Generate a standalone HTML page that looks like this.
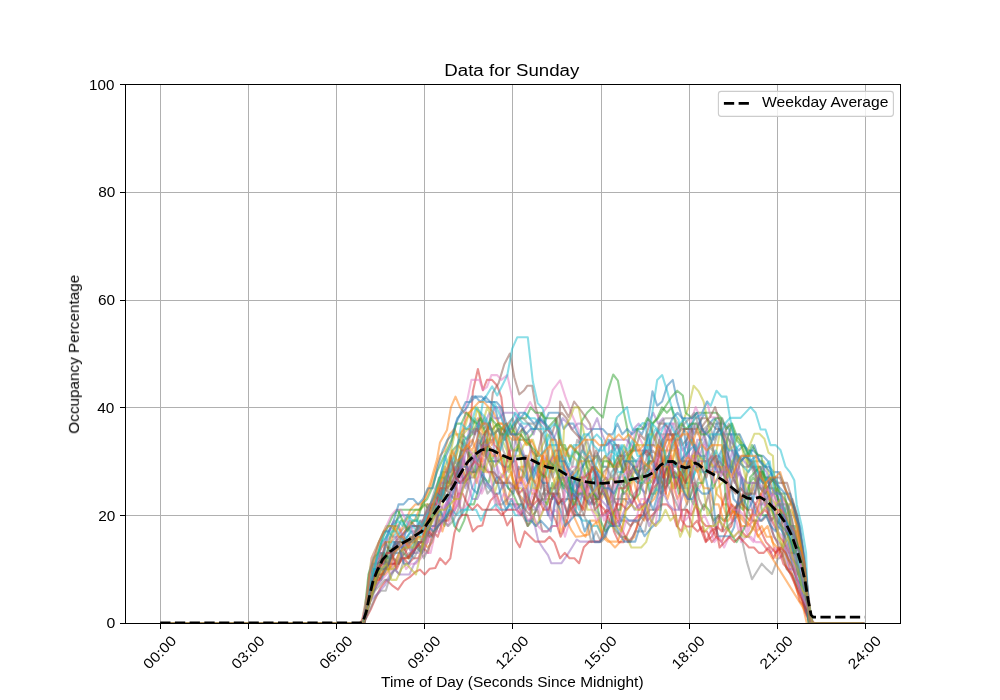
<!DOCTYPE html>
<html><head><meta charset="utf-8"><title>Data for Sunday</title>
<style>html,body{margin:0;padding:0;background:#fff}body{width:1000px;height:700px;overflow:hidden;font-family:"Liberation Sans",sans-serif}</style></head>
<body>
<svg width="1000" height="700" viewBox="0 0 1000 700" style="display:block;font-family:'Liberation Sans',sans-serif">
<rect width="1000" height="700" fill="#fff"/>
<path d="M160.5 84.5V623.5M248.5 84.5V623.5M336.5 84.5V623.5M424.5 84.5V623.5M512.5 84.5V623.5M601.5 84.5V623.5M689.5 84.5V623.5M777.5 84.5V623.5M865.5 84.5V623.5M125.5 623.5H900.5M125.5 515.5H900.5M125.5 407.5H900.5M125.5 300.5H900.5M125.5 192.5H900.5M125.5 84.5H900.5" stroke="#b0b0b0" stroke-width="1" fill="none" shape-rendering="crispEdges"/>
<clipPath id="c"><rect x="125.0" y="84.0" width="775.0" height="539.0"/></clipPath>
<g clip-path="url(#c)" fill="none" stroke-width="2.08" stroke-opacity="0.5" stroke-linejoin="round" stroke-linecap="butt">
<polyline stroke="#1f77b4" points="161.3,623.0 166.2,623.0 171.1,623.0 176.0,623.0 180.9,623.0 185.8,623.0 190.7,623.0 195.6,623.0 200.5,623.0 205.4,623.0 210.3,623.0 215.2,623.0 220.1,623.0 224.9,623.0 229.8,623.0 234.7,623.0 239.6,623.0 244.5,623.0 249.4,623.0 254.3,623.0 259.2,623.0 264.1,623.0 269.0,623.0 273.9,623.0 278.8,623.0 283.7,623.0 288.5,623.0 293.4,623.0 298.3,623.0 303.2,623.0 308.1,623.0 313.0,623.0 317.9,623.0 322.8,623.0 327.7,623.0 332.6,623.0 337.5,623.0 342.4,623.0 347.3,623.0 352.2,623.0 357.0,623.0 361.9,623.0 366.8,606.8 371.7,579.9 376.6,558.3 381.5,547.5 386.4,536.8 391.3,526.0 396.2,520.6 401.1,515.2 406.0,515.2 410.9,515.2 415.8,515.2 420.7,515.2 425.5,515.2 430.4,504.4 435.3,504.4 440.2,499.0 445.1,488.2 450.0,477.5 454.9,472.1 459.8,482.9 464.7,482.9 469.6,472.1 474.5,472.1 479.4,466.7 484.3,482.9 489.1,488.2 494.0,493.6 498.9,493.6 503.8,482.9 508.7,488.2 513.6,493.6 518.5,466.7 523.4,472.1 528.3,482.9 533.2,466.7 538.1,477.5 543.0,482.9 547.9,515.2 552.8,493.6 557.6,504.4 562.5,499.0 567.4,515.2 572.3,488.2 577.2,472.1 582.1,466.7 587.0,461.3 591.9,461.3 596.8,455.9 601.7,445.1 606.6,445.1 611.5,439.7 616.4,445.1 621.3,455.9 626.1,466.7 631.0,455.9 635.9,461.3 640.8,488.2 645.7,493.6 650.6,472.1 655.5,466.7 660.4,488.2 665.3,482.9 670.2,472.1 675.1,461.3 680.0,472.1 684.9,450.5 689.7,423.6 694.6,434.4 699.5,423.6 704.4,412.8 709.3,423.6 714.2,418.2 719.1,423.6 724.0,423.6 728.9,429.0 733.8,445.1 738.7,450.5 743.6,445.1 748.5,450.5 753.4,450.5 758.2,455.9 763.1,455.9 768.0,461.3 772.9,477.5 777.8,499.0 782.7,509.8 787.6,536.8 792.5,526.0 797.4,542.1 802.3,563.7 807.2,596.0 812.1,623.0 817.0,623.0 821.9,623.0 826.7,623.0 831.6,623.0 836.5,623.0 841.4,623.0 846.3,623.0 851.2,623.0 856.1,623.0 861.0,623.0"/>
<polyline stroke="#ff7f0e" points="164.8,623.0 169.7,623.0 174.6,623.0 179.5,623.0 184.4,623.0 189.3,623.0 194.2,623.0 199.1,623.0 204.0,623.0 208.9,623.0 213.8,623.0 218.7,623.0 223.6,623.0 228.4,623.0 233.3,623.0 238.2,623.0 243.1,623.0 248.0,623.0 252.9,623.0 257.8,623.0 262.7,623.0 267.6,623.0 272.5,623.0 277.4,623.0 282.3,623.0 287.2,623.0 292.1,623.0 296.9,623.0 301.8,623.0 306.7,623.0 311.6,623.0 316.5,623.0 321.4,623.0 326.3,623.0 331.2,623.0 336.1,623.0 341.0,623.0 345.9,623.0 350.8,623.0 355.7,623.0 360.5,623.0 365.4,617.6 370.3,601.4 375.2,585.3 380.1,569.1 385.0,547.5 389.9,547.5 394.8,552.9 399.7,542.1 404.6,531.4 409.5,526.0 414.4,520.6 419.3,509.8 424.4,499.0 430.3,482.9 437.1,459.1 440.0,442.4 447.0,430.0 450.9,407.4 455.5,396.6 460.0,407.4 464.4,412.8 468.2,412.8 473.1,423.6 478.0,418.2 482.9,434.4 487.8,429.0 492.7,429.0 497.5,423.6 502.4,423.6 507.3,434.4 512.2,439.7 517.1,439.7 522.0,455.9 526.9,466.7 531.8,493.6 536.7,493.6 541.6,472.1 546.5,455.9 551.4,472.1 556.3,488.2 561.1,472.1 566.0,482.9 570.9,509.8 575.8,520.6 580.7,531.4 585.6,536.8 590.5,520.6 595.4,520.6 600.3,531.4 605.2,536.8 610.1,542.1 615.0,547.5 619.9,542.1 624.8,536.8 629.6,542.1 634.5,536.8 639.4,515.2 644.3,520.6 649.2,504.4 654.1,499.0 659.0,488.2 663.9,450.5 668.8,450.5 673.7,450.5 678.6,445.1 683.5,429.0 688.4,434.4 693.3,439.7 698.1,450.5 703.0,466.7 707.9,472.1 712.8,472.1 717.7,472.1 722.6,504.4 727.5,504.4 732.4,520.6 737.3,504.4 742.2,504.4 747.1,509.8 752.0,509.8 756.9,531.4 761.7,526.0 766.6,536.8 771.5,536.8 776.4,558.3 781.3,547.5 786.2,531.4 791.1,542.1 796.0,569.1 800.9,579.9 805.8,606.8 810.7,623.0 815.6,623.0 820.5,623.0 825.4,623.0 830.2,623.0 835.1,623.0 840.0,623.0 844.9,623.0 849.8,623.0 854.7,623.0 859.6,623.0 864.5,623.0"/>
<polyline stroke="#2ca02c" points="160.8,623.0 165.7,623.0 170.5,623.0 175.4,623.0 180.3,623.0 185.2,623.0 190.1,623.0 195.0,623.0 199.9,623.0 204.8,623.0 209.7,623.0 214.6,623.0 219.5,623.0 224.4,623.0 229.3,623.0 234.1,623.0 239.0,623.0 243.9,623.0 248.8,623.0 253.7,623.0 258.6,623.0 263.5,623.0 268.4,623.0 273.3,623.0 278.2,623.0 283.1,623.0 288.0,623.0 292.9,623.0 297.8,623.0 302.6,623.0 307.5,623.0 312.4,623.0 317.3,623.0 322.2,623.0 327.1,623.0 332.0,623.0 336.9,623.0 341.8,623.0 346.7,623.0 351.6,623.0 356.5,623.0 361.4,623.0 366.3,612.2 371.1,590.7 376.0,574.5 380.9,579.9 385.8,563.7 390.7,558.3 395.6,542.1 400.5,542.1 405.4,542.1 410.3,542.1 415.2,536.8 420.1,520.6 425.0,526.0 429.9,515.2 434.7,515.2 439.6,509.8 444.5,526.0 449.4,509.8 454.3,526.0 459.2,531.4 464.1,520.6 469.0,504.4 473.9,504.4 478.8,488.2 483.7,477.5 488.6,482.9 493.5,461.3 498.4,461.3 503.2,455.9 508.1,488.2 513.0,493.6 517.9,504.4 522.8,504.4 527.7,526.0 532.6,520.6 537.5,504.4 542.4,499.0 547.3,504.4 552.2,482.9 557.1,493.6 562.0,482.9 566.9,488.2 571.7,488.2 576.6,493.6 581.5,421.4 587.1,412.8 592.9,407.1 597.9,412.8 602.9,417.6 607.9,391.2 613.2,374.5 617.9,380.7 622.9,407.4 627.0,427.3 630.5,450.5 635.3,472.1 640.2,477.5 645.1,472.1 650.0,493.6 654.9,493.6 659.8,477.5 664.7,488.2 669.6,482.9 674.5,461.3 679.4,472.1 684.3,493.6 689.2,499.0 694.1,482.9 699.0,515.2 703.8,504.4 708.7,509.8 713.6,520.6 718.5,515.2 723.4,520.6 728.3,515.2 733.2,509.8 738.1,504.4 743.0,509.8 747.9,488.2 752.8,477.5 757.7,482.9 762.6,515.2 767.5,515.2 772.3,493.6 777.2,493.6 782.1,520.6 787.0,504.4 791.9,531.4 796.8,542.1 801.7,558.3 806.6,590.7 811.5,623.0 816.4,623.0 821.3,623.0 826.2,623.0 831.1,623.0 835.9,623.0 840.8,623.0 845.7,623.0 850.6,623.0 855.5,623.0 860.4,623.0"/>
<polyline stroke="#d62728" points="163.8,623.0 168.7,623.0 173.6,623.0 178.5,623.0 183.4,623.0 188.2,623.0 193.1,623.0 198.0,623.0 202.9,623.0 207.8,623.0 212.7,623.0 217.6,623.0 222.5,623.0 227.4,623.0 232.3,623.0 237.2,623.0 242.1,623.0 247.0,623.0 251.9,623.0 256.7,623.0 261.6,623.0 266.5,623.0 271.4,623.0 276.3,623.0 281.2,623.0 286.1,623.0 291.0,623.0 295.9,623.0 300.8,623.0 305.7,623.0 310.6,623.0 315.5,623.0 320.4,623.0 325.2,623.0 330.1,623.0 335.0,623.0 339.9,623.0 344.8,623.0 349.7,623.0 354.6,623.0 359.5,623.0 364.4,623.0 369.3,601.4 374.2,590.7 379.1,579.9 384.0,569.1 388.8,569.1 393.7,563.7 398.6,563.7 403.5,558.3 408.4,563.7 413.3,558.3 418.2,558.3 423.1,547.5 428.0,552.9 432.9,531.4 437.8,536.8 442.7,520.6 447.6,504.4 452.5,482.9 457.3,477.5 462.2,455.9 467.1,472.1 472.9,391.2 477.9,369.1 482.9,390.2 487.0,379.9 492.0,379.9 497.2,385.8 501.3,397.2 506.3,439.7 511.2,461.3 516.1,461.3 521.0,482.9 525.8,455.9 530.7,472.1 535.6,455.9 540.5,488.2 545.4,466.7 550.3,461.3 555.2,450.5 560.1,450.5 565.0,472.1 569.9,488.2 574.8,515.2 579.7,482.9 584.6,499.0 589.4,504.4 594.3,499.0 599.2,499.0 604.1,482.9 609.0,499.0 613.9,531.4 618.8,542.1 623.7,542.1 628.6,531.4 633.5,520.6 638.4,515.2 643.3,515.2 648.2,499.0 653.1,488.2 657.9,482.9 662.8,461.3 667.7,455.9 672.6,493.6 677.5,526.0 682.4,509.8 687.3,509.8 692.2,526.0 697.1,520.6 702.0,531.4 706.9,531.4 711.8,542.1 716.7,536.8 721.6,542.1 726.4,531.4 731.3,526.0 736.2,509.8 741.1,499.0 746.0,493.6 750.9,499.0 755.8,504.4 760.7,493.6 765.6,504.4 770.5,520.6 775.4,515.2 780.3,509.8 785.2,547.5 790.0,569.1 794.9,579.9 799.8,601.4 804.7,606.8 809.6,623.0 814.5,623.0 819.4,623.0 824.3,623.0 829.2,623.0 834.1,623.0 839.0,623.0 843.9,623.0 848.8,623.0 853.7,623.0 858.5,623.0 863.4,623.0"/>
<polyline stroke="#9467bd" points="163.9,623.0 168.8,623.0 173.7,623.0 178.6,623.0 183.5,623.0 188.4,623.0 193.3,623.0 198.2,623.0 203.1,623.0 208.0,623.0 212.9,623.0 217.8,623.0 222.6,623.0 227.5,623.0 232.4,623.0 237.3,623.0 242.2,623.0 247.1,623.0 252.0,623.0 256.9,623.0 261.8,623.0 266.7,623.0 271.6,623.0 276.5,623.0 281.4,623.0 286.2,623.0 291.1,623.0 296.0,623.0 300.9,623.0 305.8,623.0 310.7,623.0 315.6,623.0 320.5,623.0 325.4,623.0 330.3,623.0 335.2,623.0 340.1,623.0 345.0,623.0 349.9,623.0 354.7,623.0 359.6,623.0 364.5,623.0 369.4,596.0 374.3,574.5 379.2,552.9 384.1,552.9 389.0,531.4 393.9,526.0 398.8,526.0 403.7,542.1 408.6,542.1 413.5,552.9 418.3,552.9 423.2,542.1 428.1,520.6 433.0,504.4 437.9,515.2 442.8,515.2 447.7,499.0 452.6,515.2 457.5,504.4 462.4,488.2 467.3,482.9 472.2,499.0 477.1,499.0 482.0,488.2 486.8,450.5 491.7,461.3 496.6,477.5 501.5,477.5 506.4,472.1 511.3,466.7 516.2,434.4 521.1,445.1 526.0,461.3 530.4,514.7 535.1,526.5 538.3,540.8 543.3,548.6 548.0,555.1 551.2,563.2 561.5,563.2 567.1,555.1 572.1,547.2 576.8,539.5 580.0,541.6 600.0,541.6 606.4,531.4 609.2,439.7 614.1,450.5 618.9,445.1 623.8,455.9 628.7,439.7 633.6,429.0 638.5,423.6 643.4,429.0 648.3,423.6 653.2,412.8 658.1,423.6 663.0,418.2 667.9,439.7 672.8,423.6 677.7,439.7 682.6,450.5 687.4,445.1 692.3,482.9 697.2,439.7 702.1,439.7 707.0,429.0 711.9,445.1 716.8,461.3 721.7,472.1 726.6,466.7 731.5,434.4 736.4,455.9 741.3,477.5 746.2,499.0 751.1,493.6 755.9,482.9 760.8,488.2 765.7,499.0 770.6,493.6 775.5,488.2 780.4,504.4 785.3,509.8 790.2,542.1 795.1,569.1 800.0,574.5 804.9,590.7 809.8,623.0 814.7,623.0 819.5,623.0 824.4,623.0 829.3,623.0 834.2,623.0 839.1,623.0 844.0,623.0 848.9,623.0 853.8,623.0 858.7,623.0 863.6,623.0"/>
<polyline stroke="#8c564b" points="163.3,623.0 168.2,623.0 173.1,623.0 178.0,623.0 182.9,623.0 187.8,623.0 192.7,623.0 197.5,623.0 202.4,623.0 207.3,623.0 212.2,623.0 217.1,623.0 222.0,623.0 226.9,623.0 231.8,623.0 236.7,623.0 241.6,623.0 246.5,623.0 251.4,623.0 256.3,623.0 261.1,623.0 266.0,623.0 270.9,623.0 275.8,623.0 280.7,623.0 285.6,623.0 290.5,623.0 295.4,623.0 300.3,623.0 305.2,623.0 310.1,623.0 315.0,623.0 319.9,623.0 324.8,623.0 329.6,623.0 334.5,623.0 339.4,623.0 344.3,623.0 349.2,623.0 354.1,623.0 359.0,623.0 363.9,623.0 368.8,601.4 373.7,579.9 378.6,563.7 383.5,552.9 388.4,569.1 393.2,547.5 398.1,542.1 403.0,547.5 407.9,542.1 412.8,542.1 417.7,542.1 422.6,552.9 427.5,542.1 432.4,515.2 437.3,499.0 442.2,472.1 447.1,472.1 452.0,482.9 456.9,488.2 461.7,515.2 466.6,493.6 471.5,472.1 476.4,472.1 481.3,445.1 486.2,450.5 492.8,392.8 498.7,382.9 504.3,364.3 509.9,353.5 514.3,377.2 519.3,394.5 524.2,390.2 527.2,385.8 532.2,385.8 535.7,407.4 540.4,423.6 544.9,499.0 549.8,488.2 554.7,488.2 559.6,477.5 564.5,499.0 569.4,499.0 574.3,509.8 579.2,515.2 584.1,499.0 589.0,472.1 593.8,466.7 598.7,488.2 603.6,472.1 608.5,466.7 613.4,445.1 618.3,445.1 623.2,472.1 628.1,466.7 633.0,477.5 637.9,482.9 642.8,477.5 647.7,477.5 652.6,482.9 657.5,445.1 662.3,450.5 667.2,439.7 672.1,439.7 677.0,429.0 681.9,445.1 686.8,439.7 691.7,429.0 696.6,429.0 701.5,418.2 706.4,418.2 711.3,423.6 716.2,429.0 721.1,429.0 726.0,450.5 730.8,461.3 735.7,477.5 740.6,461.3 745.5,455.9 750.4,461.3 755.3,472.1 760.2,488.2 765.1,493.6 770.0,482.9 774.9,477.5 779.8,493.6 784.7,499.0 789.6,509.8 794.4,531.4 799.3,552.9 804.2,579.9 809.1,623.0 814.0,623.0 818.9,623.0 823.8,623.0 828.7,623.0 833.6,623.0 838.5,623.0 843.4,623.0 848.3,623.0 853.2,623.0 858.1,623.0 862.9,623.0"/>
<polyline stroke="#e377c2" points="161.0,623.0 165.9,623.0 170.8,623.0 175.7,623.0 180.6,623.0 185.5,623.0 190.4,623.0 195.3,623.0 200.2,623.0 205.1,623.0 210.0,623.0 214.9,623.0 219.7,623.0 224.6,623.0 229.5,623.0 234.4,623.0 239.3,623.0 244.2,623.0 249.1,623.0 254.0,623.0 258.9,623.0 263.8,623.0 268.7,623.0 273.6,623.0 278.5,623.0 283.4,623.0 288.2,623.0 293.1,623.0 298.0,623.0 302.9,623.0 307.8,623.0 312.7,623.0 317.6,623.0 322.5,623.0 327.4,623.0 332.3,623.0 337.2,623.0 342.1,623.0 347.0,623.0 351.9,623.0 356.7,623.0 361.6,623.0 366.5,601.4 371.4,569.1 376.3,558.3 381.2,558.3 386.1,542.1 391.0,536.8 395.9,536.8 400.8,547.5 405.7,547.5 410.6,536.8 415.5,542.1 420.3,547.5 425.2,547.5 430.1,531.4 435.0,526.0 439.9,520.6 444.8,515.2 449.7,515.2 454.6,509.8 459.5,499.0 465.8,407.4 471.4,379.9 479.3,379.9 482.9,390.2 487.0,386.9 491.4,375.1 497.2,375.1 501.3,379.9 507.2,375.1 509.9,386.9 514.3,407.4 521.3,418.2 530.1,402.0 538.9,418.2 548.6,404.7 552.7,390.2 560.1,380.4 565.3,396.6 571.2,412.8 578.6,430.0 581.8,482.9 586.7,493.6 591.6,482.9 596.5,482.9 601.4,482.9 606.3,477.5 611.2,493.6 616.1,520.6 620.9,504.4 625.8,477.5 630.7,455.9 635.6,429.0 640.5,439.7 645.4,450.5 650.3,472.1 655.2,482.9 660.1,450.5 665.0,429.0 669.9,439.7 674.8,445.1 679.7,450.5 684.6,488.2 689.4,488.2 694.3,482.9 699.2,488.2 704.1,477.5 709.0,466.7 713.9,455.9 718.8,455.9 723.7,461.3 728.6,466.7 733.5,461.3 738.4,472.1 743.3,493.6 748.2,499.0 753.1,488.2 757.9,499.0 762.8,493.6 767.7,504.4 772.6,504.4 777.5,509.8 782.4,509.8 787.3,526.0 792.2,531.4 797.1,531.4 802.0,558.3 806.9,590.7 811.8,623.0 816.7,623.0 821.5,623.0 826.4,623.0 831.3,623.0 836.2,623.0 841.1,623.0 846.0,623.0 850.9,623.0 855.8,623.0 860.7,623.0"/>
<polyline stroke="#7f7f7f" points="161.3,623.0 166.2,623.0 171.1,623.0 176.0,623.0 180.9,623.0 185.7,623.0 190.6,623.0 195.5,623.0 200.4,623.0 205.3,623.0 210.2,623.0 215.1,623.0 220.0,623.0 224.9,623.0 229.8,623.0 234.7,623.0 239.6,623.0 244.5,623.0 249.3,623.0 254.2,623.0 259.1,623.0 264.0,623.0 268.9,623.0 273.8,623.0 278.7,623.0 283.6,623.0 288.5,623.0 293.4,623.0 298.3,623.0 303.2,623.0 308.1,623.0 313.0,623.0 317.8,623.0 322.7,623.0 327.6,623.0 332.5,623.0 337.4,623.0 342.3,623.0 347.2,623.0 352.1,623.0 357.0,623.0 361.9,623.0 366.8,612.2 371.7,590.7 376.6,579.9 381.5,563.7 386.3,552.9 391.2,542.1 396.1,536.8 401.0,531.4 405.9,526.0 410.8,531.4 415.7,531.4 420.6,526.0 425.5,520.6 430.4,504.4 435.3,488.2 440.2,477.5 445.1,466.7 449.9,482.9 454.8,488.2 459.7,455.9 464.6,477.5 469.5,450.5 474.4,461.3 479.3,450.5 484.2,455.9 489.1,423.6 494.0,434.4 498.9,429.0 503.8,429.0 508.7,455.9 513.6,434.4 518.4,450.5 523.3,455.9 528.2,455.9 533.1,477.5 538.0,499.0 542.9,482.9 547.8,488.2 552.7,466.7 557.6,455.9 562.5,472.1 567.4,450.5 572.3,466.7 577.2,439.7 582.0,445.1 586.9,466.7 591.8,472.1 596.7,466.7 601.6,482.9 606.5,493.6 611.4,472.1 616.3,466.7 621.2,455.9 626.1,450.5 631.0,461.3 635.9,461.3 640.8,461.3 645.7,466.7 650.5,461.3 655.4,472.1 660.3,434.4 665.2,434.4 670.1,434.4 675.0,439.7 679.9,439.7 684.8,429.0 689.7,429.0 694.6,418.2 699.5,418.2 704.4,434.4 709.3,423.6 714.2,439.7 719.0,429.0 723.9,434.4 728.8,423.6 733.7,434.4 741.2,536.2 746.8,561.6 752.0,579.3 757.0,571.3 761.7,563.7 766.7,569.1 772.0,574.0 777.6,559.1 782.6,555.6 787.5,509.8 792.4,499.0 797.3,515.2 802.2,547.5 807.1,585.3 812.0,623.0 816.9,623.0 821.8,623.0 826.7,623.0 831.6,623.0 836.5,623.0 841.4,623.0 846.3,623.0 851.1,623.0 856.0,623.0 860.9,623.0"/>
<polyline stroke="#bcbd22" points="161.7,623.0 166.6,623.0 171.5,623.0 176.4,623.0 181.3,623.0 186.2,623.0 191.1,623.0 196.0,623.0 200.8,623.0 205.7,623.0 210.6,623.0 215.5,623.0 220.4,623.0 225.3,623.0 230.2,623.0 235.1,623.0 240.0,623.0 244.9,623.0 249.8,623.0 254.7,623.0 259.6,623.0 264.4,623.0 269.3,623.0 274.2,623.0 279.1,623.0 284.0,623.0 288.9,623.0 293.8,623.0 298.7,623.0 303.6,623.0 308.5,623.0 313.4,623.0 318.3,623.0 323.2,623.0 328.1,623.0 332.9,623.0 337.8,623.0 342.7,623.0 347.6,623.0 352.5,623.0 357.4,623.0 362.3,623.0 367.2,606.8 372.1,585.3 377.0,569.1 381.9,558.3 386.8,558.3 391.7,569.1 396.6,563.7 401.4,552.9 406.3,547.5 411.2,536.8 416.1,542.1 421.0,552.9 425.9,536.8 430.8,531.4 435.7,531.4 440.6,515.2 445.5,488.2 450.4,482.9 455.3,482.9 460.2,461.3 465.0,466.7 469.9,455.9 474.8,450.5 479.7,455.9 484.6,450.5 489.5,450.5 494.4,493.6 499.3,477.5 504.2,472.1 509.1,466.7 514.0,455.9 518.9,455.9 523.8,445.1 528.7,439.7 533.5,455.9 538.4,472.1 543.3,461.3 548.2,466.7 553.1,450.5 558.0,482.9 562.9,477.5 567.8,477.5 572.7,482.9 577.6,477.5 582.5,477.5 587.4,509.8 592.3,509.8 597.2,515.2 602.0,531.4 606.9,520.6 611.8,526.0 616.7,531.4 621.6,536.8 626.5,536.8 631.4,547.5 636.3,547.5 641.2,547.5 646.1,542.1 651.0,526.0 655.9,509.8 660.8,509.8 665.6,472.1 670.5,450.5 675.4,439.7 680.3,429.0 685.7,414.4 688.6,407.4 693.6,385.8 698.6,391.2 703.6,401.5 708.6,425.7 714.6,461.3 719.5,434.4 724.4,434.4 729.3,450.5 734.1,445.1 739.0,434.4 743.9,455.9 748.8,466.7 753.7,461.3 758.6,461.3 763.5,461.3 768.4,472.1 773.3,493.6 778.2,488.2 783.1,499.0 788.0,504.4 792.9,504.4 797.8,526.0 802.6,552.9 807.5,596.0 812.4,623.0 817.3,623.0 822.2,623.0 827.1,623.0 832.0,623.0 836.9,623.0 841.8,623.0 846.7,623.0 851.6,623.0 856.5,623.0 861.4,623.0"/>
<polyline stroke="#17becf" points="162.0,623.0 166.9,623.0 171.8,623.0 176.7,623.0 181.5,623.0 186.4,623.0 191.3,623.0 196.2,623.0 201.1,623.0 206.0,623.0 210.9,623.0 215.8,623.0 220.7,623.0 225.6,623.0 230.5,623.0 235.4,623.0 240.3,623.0 245.2,623.0 250.0,623.0 254.9,623.0 259.8,623.0 264.7,623.0 269.6,623.0 274.5,623.0 279.4,623.0 284.3,623.0 289.2,623.0 294.1,623.0 299.0,623.0 303.9,623.0 308.8,623.0 313.7,623.0 318.5,623.0 323.4,623.0 328.3,623.0 333.2,623.0 338.1,623.0 343.0,623.0 347.9,623.0 352.8,623.0 357.7,623.0 362.6,623.0 367.5,596.0 372.4,569.1 377.3,558.3 382.1,552.9 387.0,558.3 391.9,542.1 396.8,542.1 401.7,547.5 406.6,547.5 411.5,547.5 416.4,531.4 421.3,526.0 426.2,531.4 431.1,536.8 436.0,531.4 440.9,520.6 445.8,515.2 450.6,509.8 455.5,526.0 460.4,515.2 465.3,509.8 470.2,504.4 475.1,488.2 478.4,430.0 482.9,401.5 492.2,386.4 497.2,395.5 502.2,385.8 507.2,375.6 512.2,348.6 517.2,337.3 522.2,337.3 527.8,337.3 532.8,381.5 537.7,403.1 542.7,408.5 545.7,421.4 548.5,477.5 553.4,461.3 558.3,472.1 563.2,488.2 568.1,493.6 573.0,504.4 577.9,515.2 582.7,520.6 587.6,520.6 592.5,526.0 597.4,526.0 602.3,536.8 607.2,520.6 612.1,526.0 615.0,424.1 617.0,417.1 622.9,411.4 627.0,407.1 629.9,421.4 632.9,430.0 637.0,429.0 642.8,423.0 645.8,424.1 651.2,499.0 656.1,488.2 661.0,493.6 665.9,466.7 670.8,472.1 675.7,477.5 680.6,466.7 685.5,482.9 690.4,482.9 695.3,472.1 700.2,455.9 705.1,461.3 710.0,466.7 714.9,466.7 719.7,461.3 724.6,445.1 729.5,450.5 734.4,450.5 739.3,445.1 744.2,445.1 749.1,455.9 754.0,466.7 758.9,472.1 763.8,472.1 768.7,482.9 773.6,515.2 778.5,515.2 783.3,536.8 788.2,558.3 793.1,569.1 798.0,585.3 802.9,596.0 807.8,612.2 812.7,623.0 817.6,623.0 822.5,623.0 827.4,623.0 832.3,623.0 837.2,623.0 842.1,623.0 847.0,623.0 851.8,623.0 856.7,623.0 861.6,623.0"/>
<polyline stroke="#1f77b4" points="162.4,623.0 167.3,623.0 172.2,623.0 177.0,623.0 181.9,623.0 186.8,623.0 191.7,623.0 196.6,623.0 201.5,623.0 206.4,623.0 211.3,623.0 216.2,623.0 221.1,623.0 226.0,623.0 230.9,623.0 235.8,623.0 240.7,623.0 245.5,623.0 250.4,623.0 255.3,623.0 260.2,623.0 265.1,623.0 270.0,623.0 274.9,623.0 279.8,623.0 284.7,623.0 289.6,623.0 294.5,623.0 299.4,623.0 304.3,623.0 309.1,623.0 314.0,623.0 318.9,623.0 323.8,623.0 328.7,623.0 333.6,623.0 338.5,623.0 343.4,623.0 348.3,623.0 353.2,623.0 358.1,623.0 363.0,623.0 367.9,601.4 372.8,563.7 377.6,563.7 382.5,558.3 387.4,558.3 392.3,552.9 397.2,547.5 402.1,547.5 407.0,536.8 411.9,531.4 416.8,547.5 421.7,552.9 426.6,526.0 431.5,515.2 436.4,493.6 441.3,472.1 446.1,455.9 451.0,445.1 455.9,423.6 460.8,412.8 465.7,402.0 470.6,402.0 475.5,396.6 480.4,402.0 485.3,396.6 490.2,402.0 495.1,407.4 500.0,429.0 504.9,439.7 509.7,429.0 514.6,423.6 519.5,412.8 524.4,412.8 529.3,418.2 534.2,423.6 539.1,418.2 544.0,423.6 548.9,412.8 553.8,412.8 558.7,412.8 563.6,429.0 568.5,423.6 573.4,423.6 578.2,434.4 583.1,439.7 588.0,434.4 592.9,429.0 597.8,429.0 602.7,429.0 607.6,434.4 612.5,434.4 617.4,423.6 622.3,434.4 627.2,429.0 632.1,434.4 637.0,429.0 641.8,434.4 648.4,418.7 652.5,391.2 657.2,405.8 662.2,401.5 667.2,385.8 672.8,379.9 677.2,401.5 682.8,420.0 685.9,445.1 690.8,439.7 695.7,450.5 700.6,455.9 705.5,455.9 710.3,445.1 715.2,434.4 720.1,429.0 725.0,434.4 729.9,434.4 734.8,434.4 739.7,434.4 744.6,445.1 749.5,455.9 754.4,445.1 759.3,461.3 764.2,466.7 769.1,466.7 774.0,472.1 778.8,472.1 783.7,482.9 788.6,499.0 793.5,504.4 798.4,520.6 803.3,552.9 808.2,606.8 813.1,623.0 818.0,623.0 822.9,623.0 827.8,623.0 832.7,623.0 837.6,623.0 842.4,623.0 847.3,623.0 852.2,623.0 857.1,623.0 862.0,623.0"/>
<polyline stroke="#ff7f0e" points="163.5,623.0 168.4,623.0 173.3,623.0 178.2,623.0 183.1,623.0 188.0,623.0 192.9,623.0 197.8,623.0 202.7,623.0 207.5,623.0 212.4,623.0 217.3,623.0 222.2,623.0 227.1,623.0 232.0,623.0 236.9,623.0 241.8,623.0 246.7,623.0 251.6,623.0 256.5,623.0 261.4,623.0 266.3,623.0 271.2,623.0 276.0,623.0 280.9,623.0 285.8,623.0 290.7,623.0 295.6,623.0 300.5,623.0 305.4,623.0 310.3,623.0 315.2,623.0 320.1,623.0 325.0,623.0 329.9,623.0 334.8,623.0 339.7,623.0 344.5,623.0 349.4,623.0 354.3,623.0 359.2,623.0 364.1,623.0 369.0,601.4 373.9,574.5 378.8,569.1 383.7,563.7 388.6,552.9 393.5,552.9 398.4,547.5 403.3,558.3 408.1,558.3 413.0,552.9 417.9,542.1 422.8,542.1 427.7,547.5 432.6,542.1 437.5,515.2 442.4,531.4 447.3,515.2 452.2,509.8 457.1,482.9 462.0,466.7 466.9,482.9 471.8,466.7 476.6,482.9 481.5,461.3 486.4,472.1 491.3,472.1 496.2,482.9 501.1,477.5 506.0,504.4 510.9,488.2 515.8,488.2 520.7,466.7 525.6,466.7 530.5,450.5 535.4,455.9 540.3,455.9 545.1,450.5 550.0,472.1 554.9,461.3 559.8,466.7 564.7,482.9 569.6,493.6 574.5,504.4 579.4,504.4 584.3,509.8 589.2,482.9 594.1,493.6 599.0,504.4 603.9,493.6 608.7,499.0 613.6,515.2 618.5,520.6 623.4,499.0 628.3,499.0 633.2,477.5 638.1,499.0 643.0,509.8 647.9,477.5 652.8,477.5 657.7,477.5 662.6,482.9 667.5,499.0 672.4,482.9 677.2,499.0 682.1,488.2 687.0,504.4 691.9,455.9 696.8,450.5 701.7,445.1 706.6,472.1 711.5,461.3 716.4,493.6 721.3,499.0 726.2,515.2 731.1,504.4 736.0,515.2 740.9,515.2 745.7,520.6 750.6,526.0 755.5,531.4 809.3,617.6 814.2,623.0 819.1,623.0 824.0,623.0 828.9,623.0 833.8,623.0 838.7,623.0 843.6,623.0 848.5,623.0 853.4,623.0 858.3,623.0 863.2,623.0"/>
<polyline stroke="#2ca02c" points="163.7,623.0 168.6,623.0 173.5,623.0 178.4,623.0 183.3,623.0 188.2,623.0 193.1,623.0 198.0,623.0 202.9,623.0 207.8,623.0 212.7,623.0 217.6,623.0 222.5,623.0 227.3,623.0 232.2,623.0 237.1,623.0 242.0,623.0 246.9,623.0 251.8,623.0 256.7,623.0 261.6,623.0 266.5,623.0 271.4,623.0 276.3,623.0 281.2,623.0 286.1,623.0 290.9,623.0 295.8,623.0 300.7,623.0 305.6,623.0 310.5,623.0 315.4,623.0 320.3,623.0 325.2,623.0 330.1,623.0 335.0,623.0 339.9,623.0 344.8,623.0 349.7,623.0 354.6,623.0 359.4,623.0 364.3,623.0 369.2,596.0 374.1,574.5 379.0,569.1 383.9,552.9 388.8,558.3 393.7,558.3 398.6,563.7 403.5,552.9 408.4,558.3 413.3,547.5 418.2,531.4 423.1,520.6 427.9,531.4 432.8,515.2 437.7,504.4 442.6,488.2 447.5,472.1 452.4,450.5 457.3,445.1 462.2,434.4 467.1,439.7 472.0,434.4 476.9,423.6 481.8,445.1 486.7,439.7 491.5,461.3 496.4,450.5 501.3,429.0 506.2,423.6 511.1,434.4 516.0,423.6 520.9,418.2 525.8,418.2 530.7,407.4 535.6,412.8 540.5,412.8 545.4,418.2 550.3,418.2 555.2,418.2 560.0,445.1 564.9,445.1 569.8,461.3 574.7,450.5 579.6,455.9 584.5,472.1 589.4,482.9 594.3,477.5 599.2,493.6 604.1,493.6 609.0,504.4 613.9,499.0 618.8,482.9 623.7,493.6 628.5,488.2 633.4,466.7 638.3,472.1 643.2,466.7 648.1,472.1 653.0,423.6 657.9,418.2 662.2,411.4 671.3,397.2 677.2,390.7 682.8,395.5 685.7,412.8 692.1,418.2 697.0,412.8 701.9,412.8 706.8,412.8 711.7,412.8 716.6,412.8 721.5,418.2 726.4,429.0 731.3,423.6 736.2,439.7 741.1,445.1 746.0,455.9 750.9,466.7 755.8,466.7 760.6,466.7 765.5,488.2 770.4,488.2 775.3,488.2 780.2,509.8 785.1,520.6 790.0,526.0 794.9,526.0 799.8,558.3 804.7,569.1 809.6,623.0 814.5,623.0 819.4,623.0 824.3,623.0 829.1,623.0 834.0,623.0 838.9,623.0 843.8,623.0 848.7,623.0 853.6,623.0 858.5,623.0 863.4,623.0"/>
<polyline stroke="#d62728" points="163.0,623.0 167.8,623.0 172.7,623.0 177.6,623.0 182.5,623.0 187.4,623.0 192.3,623.0 197.2,623.0 202.1,623.0 207.0,623.0 211.9,623.0 216.8,623.0 221.7,623.0 226.6,623.0 231.5,623.0 236.3,623.0 241.2,623.0 246.1,623.0 251.0,623.0 255.9,623.0 260.8,623.0 265.7,623.0 270.6,623.0 275.5,623.0 280.4,623.0 285.3,623.0 290.2,623.0 295.1,623.0 299.9,623.0 304.8,623.0 309.7,623.0 314.6,623.0 319.5,623.0 324.4,623.0 329.3,623.0 334.2,623.0 339.1,623.0 344.0,623.0 348.9,623.0 353.8,623.0 358.7,623.0 363.6,623.0 370.7,609.5 375.4,598.7 380.4,588.0 386.3,579.9 392.1,585.3 398.0,589.6 403.9,581.0 409.8,577.2 415.6,571.8 420.0,569.6 424.7,574.5 429.7,568.8 435.3,568.0 440.0,558.3 445.6,564.2 450.3,558.3 454.4,533.0 458.5,520.1 462.3,514.7 467.3,514.7 472.9,531.4 477.6,526.5 482.3,525.4 486.4,510.3 490.5,500.6 496.6,494.2 502.5,512.0 507.2,525.4 511.9,518.4 516.0,540.8 519.8,547.2 524.8,531.4 535.1,541.6 544.8,541.6 549.5,536.8 554.5,542.4 560.1,558.3 564.8,552.9 569.5,558.3 574.4,558.3 579.1,563.2 583.8,547.2 589.4,541.6 600.0,541.6 604.7,526.5 609.7,508.7 613.1,526.0 618.0,520.6 622.9,531.4 627.8,542.1 632.7,536.8 637.5,526.0 642.4,509.8 647.3,520.6 652.2,515.2 657.1,509.8 662.0,504.4 666.9,504.4 671.8,509.8 676.7,526.0 681.6,531.4 686.5,509.8 691.4,515.2 696.3,504.4 701.1,520.6 706.0,526.0 710.9,526.0 715.8,536.8 720.7,509.8 725.6,493.6 730.5,515.2 735.4,509.8 740.3,493.6 745.2,515.2 750.1,520.6 755.0,504.4 759.9,515.2 764.8,509.8 769.6,515.2 774.5,526.0 779.4,536.8 784.3,542.1 789.2,552.9 794.1,552.9 799.0,558.3 803.9,574.5 808.8,623.0 813.7,623.0 818.6,623.0 823.5,623.0 828.4,623.0 833.3,623.0 838.1,623.0 843.0,623.0 847.9,623.0 852.8,623.0 857.7,623.0 862.6,623.0"/>
<polyline stroke="#9467bd" points="162.0,623.0 166.9,623.0 171.8,623.0 176.7,623.0 181.6,623.0 186.5,623.0 191.4,623.0 196.3,623.0 201.2,623.0 206.1,623.0 211.0,623.0 215.9,623.0 220.8,623.0 225.6,623.0 230.5,623.0 235.4,623.0 240.3,623.0 245.2,623.0 250.1,623.0 255.0,623.0 259.9,623.0 264.8,623.0 269.7,623.0 274.6,623.0 279.5,623.0 284.4,623.0 289.3,623.0 294.1,623.0 299.0,623.0 303.9,623.0 308.8,623.0 313.7,623.0 318.6,623.0 323.5,623.0 328.4,623.0 333.3,623.0 338.2,623.0 343.1,623.0 348.0,623.0 352.9,623.0 357.7,623.0 362.6,623.0 367.5,606.8 372.4,590.7 377.3,574.5 382.2,569.1 387.1,552.9 392.0,552.9 396.9,536.8 401.8,536.8 406.7,531.4 411.6,526.0 416.5,526.0 421.4,520.6 426.2,520.6 431.1,509.8 436.0,499.0 440.9,493.6 445.8,472.1 450.7,461.3 455.6,472.1 460.5,466.7 465.4,488.2 470.3,472.1 475.2,455.9 480.1,412.8 485.0,423.6 489.9,423.6 494.7,407.4 499.6,407.4 504.5,429.0 509.4,434.4 514.3,434.4 519.2,439.7 524.1,439.7 529.0,439.7 533.9,477.5 538.8,466.7 543.7,455.9 548.6,466.7 553.5,455.9 558.3,466.7 563.2,466.7 568.1,477.5 573.0,472.1 577.9,488.2 582.8,477.5 587.7,472.1 592.6,466.7 597.5,488.2 602.4,482.9 607.3,482.9 612.2,499.0 617.1,504.4 622.0,493.6 626.8,493.6 631.7,504.4 636.6,493.6 641.5,482.9 646.4,504.4 651.3,488.2 656.2,477.5 661.1,493.6 666.0,488.2 670.9,466.7 675.8,472.1 680.7,488.2 685.6,466.7 690.5,445.1 695.3,423.6 700.2,423.6 705.1,439.7 710.0,455.9 714.9,466.7 719.8,477.5 724.7,472.1 729.6,466.7 734.5,482.9 739.4,472.1 744.3,482.9 749.2,499.0 754.1,515.2 758.9,504.4 763.8,504.4 768.7,509.8 773.6,536.8 778.5,542.1 783.4,547.5 788.3,569.1 793.2,569.1 798.1,574.5 803.0,579.9 807.9,606.8 812.8,623.0 817.7,623.0 822.6,623.0 827.4,623.0 832.3,623.0 837.2,623.0 842.1,623.0 847.0,623.0 851.9,623.0 856.8,623.0 861.7,623.0"/>
<polyline stroke="#8c564b" points="160.8,623.0 165.7,623.0 170.6,623.0 175.4,623.0 180.3,623.0 185.2,623.0 190.1,623.0 195.0,623.0 199.9,623.0 204.8,623.0 209.7,623.0 214.6,623.0 219.5,623.0 224.4,623.0 229.3,623.0 234.2,623.0 239.1,623.0 243.9,623.0 248.8,623.0 253.7,623.0 258.6,623.0 263.5,623.0 268.4,623.0 273.3,623.0 278.2,623.0 283.1,623.0 288.0,623.0 292.9,623.0 297.8,623.0 302.7,623.0 307.6,623.0 312.4,623.0 317.3,623.0 322.2,623.0 327.1,623.0 332.0,623.0 336.9,623.0 341.8,623.0 346.7,623.0 351.6,623.0 356.5,623.0 361.4,623.0 366.3,612.2 371.2,585.3 376.0,569.1 380.9,552.9 385.8,563.7 390.7,563.7 395.6,563.7 400.5,558.3 405.4,552.9 410.3,542.1 415.2,536.8 420.1,547.5 425.0,542.1 429.9,526.0 434.8,515.2 439.7,504.4 444.5,488.2 449.4,493.6 454.3,499.0 459.2,466.7 464.1,482.9 469.0,477.5 473.9,477.5 478.8,466.7 483.7,466.7 488.6,472.1 493.5,472.1 498.4,477.5 503.3,482.9 508.2,504.4 513.0,504.4 517.9,504.4 522.8,515.2 527.7,526.0 532.6,515.2 537.5,509.8 542.4,531.4 547.3,531.4 552.2,526.0 557.1,526.0 560.1,401.5 568.6,417.1 574.1,401.5 581.5,411.4 585.6,417.1 590.0,424.1 592.9,438.7 596.2,499.0 601.1,482.9 606.0,477.5 610.9,488.2 615.8,504.4 620.7,520.6 625.6,520.6 630.5,526.0 635.4,520.6 640.3,526.0 645.1,515.2 650.0,509.8 654.9,509.8 659.8,504.4 664.7,455.9 669.6,477.5 674.5,472.1 679.4,477.5 684.3,488.2 689.2,461.3 694.1,477.5 699.0,499.0 703.9,509.8 708.8,493.6 713.6,526.0 718.5,515.2 723.4,531.4 728.3,526.0 733.2,520.6 738.1,515.2 743.0,493.6 747.9,499.0 752.8,482.9 757.7,482.9 762.6,472.1 767.5,482.9 772.4,477.5 777.2,482.9 782.1,482.9 787.0,482.9 791.9,499.0 796.8,515.2 801.7,542.1 806.6,579.9 811.5,623.0 816.4,623.0 821.3,623.0 826.2,623.0 831.1,623.0 836.0,623.0 840.9,623.0 845.7,623.0 850.6,623.0 855.5,623.0 860.4,623.0"/>
<polyline stroke="#e377c2" points="163.8,623.0 168.7,623.0 173.6,623.0 178.5,623.0 183.4,623.0 188.3,623.0 193.2,623.0 198.1,623.0 203.0,623.0 207.8,623.0 212.7,623.0 217.6,623.0 222.5,623.0 227.4,623.0 232.3,623.0 237.2,623.0 242.1,623.0 247.0,623.0 251.9,623.0 256.8,623.0 261.7,623.0 266.6,623.0 271.4,623.0 276.3,623.0 281.2,623.0 286.1,623.0 291.0,623.0 295.9,623.0 300.8,623.0 305.7,623.0 310.6,623.0 315.5,623.0 320.4,623.0 325.3,623.0 330.2,623.0 335.1,623.0 339.9,623.0 344.8,623.0 349.7,623.0 354.6,623.0 359.5,623.0 364.4,623.0 369.3,590.7 374.2,569.1 379.1,552.9 384.0,542.1 388.9,531.4 393.8,520.6 398.7,526.0 403.6,536.8 408.4,547.5 413.3,552.9 418.2,542.1 423.1,542.1 428.0,542.1 432.9,526.0 437.8,526.0 442.7,515.2 447.6,526.0 452.5,515.2 457.4,504.4 462.3,509.8 467.2,504.4 472.0,488.2 476.9,477.5 481.8,493.6 486.7,482.9 491.6,488.2 496.5,509.8 501.4,509.8 506.3,509.8 511.2,509.8 516.1,504.4 521.0,515.2 525.9,509.8 530.8,499.0 535.7,488.2 540.5,515.2 545.4,504.4 550.3,515.2 555.2,509.8 560.1,515.2 565.0,536.8 569.9,520.6 574.8,504.4 579.7,493.6 584.6,477.5 589.5,493.6 594.4,504.4 599.3,504.4 604.2,520.6 609.0,509.8 613.9,477.5 618.8,488.2 623.7,477.5 628.6,477.5 633.5,472.1 638.4,472.1 643.3,466.7 648.2,472.1 653.1,472.1 658.0,455.9 662.9,439.7 667.8,450.5 672.6,466.7 677.5,466.7 682.4,466.7 687.3,455.9 691.3,420.0 695.7,407.1 700.1,417.1 707.1,401.5 710.7,417.1 718.6,417.9 721.5,423.0 725.6,440.0 731.4,520.6 736.3,520.6 741.1,542.1 746.0,536.8 750.9,536.8 755.8,542.1 760.7,542.1 765.6,547.5 770.5,552.9 775.4,547.5 780.3,558.3 785.2,547.5 790.1,558.3 795.0,574.5 799.9,585.3 804.8,606.8 809.6,623.0 814.5,623.0 819.4,623.0 824.3,623.0 829.2,623.0 834.1,623.0 839.0,623.0 843.9,623.0 848.8,623.0 853.7,623.0 858.6,623.0 863.5,623.0"/>
<polyline stroke="#7f7f7f" points="160.7,623.0 165.6,623.0 170.5,623.0 175.4,623.0 180.3,623.0 185.2,623.0 190.1,623.0 194.9,623.0 199.8,623.0 204.7,623.0 209.6,623.0 214.5,623.0 219.4,623.0 224.3,623.0 229.2,623.0 234.1,623.0 239.0,623.0 243.9,623.0 248.8,623.0 253.7,623.0 258.6,623.0 263.4,623.0 268.3,623.0 273.2,623.0 278.1,623.0 283.0,623.0 287.9,623.0 292.8,623.0 297.7,623.0 302.6,623.0 307.5,623.0 312.4,623.0 317.3,623.0 322.2,623.0 327.1,623.0 331.9,623.0 336.8,623.0 341.7,623.0 346.6,623.0 351.5,623.0 356.4,623.0 361.3,623.0 366.2,617.6 371.1,606.8 376.0,596.0 380.9,590.7 385.8,590.7 390.7,574.5 395.5,569.1 400.4,558.3 405.3,547.5 410.2,536.8 415.1,536.8 420.0,531.4 424.9,515.2 429.8,504.4 434.7,499.0 439.6,488.2 444.5,477.5 449.4,493.6 454.3,472.1 459.2,461.3 464.0,429.0 468.9,429.0 473.8,434.4 478.7,423.6 483.6,429.0 488.5,423.6 493.4,434.4 498.3,429.0 503.2,450.5 508.1,461.3 513.0,455.9 517.9,477.5 522.8,477.5 527.7,461.3 532.5,477.5 537.4,488.2 542.3,499.0 547.2,499.0 552.1,499.0 557.0,488.2 561.9,477.5 566.8,488.2 571.7,482.9 576.6,493.6 581.5,509.8 586.4,520.6 591.3,542.1 596.1,531.4 601.0,542.1 605.9,536.8 610.8,515.2 615.7,531.4 620.6,536.8 625.5,536.8 630.4,542.1 635.3,531.4 640.2,531.4 645.1,531.4 650.0,504.4 654.9,488.2 659.8,477.5 664.6,477.5 669.5,488.2 674.4,499.0 679.3,509.8 684.2,509.8 689.1,499.0 694.0,488.2 698.9,477.5 703.8,455.9 708.7,461.3 713.6,450.5 718.5,472.1 723.4,455.9 728.2,466.7 733.1,466.7 738.0,493.6 742.9,488.2 747.8,472.1 752.7,466.7 757.6,472.1 762.5,477.5 767.4,488.2 772.3,509.8 777.2,531.4 782.1,520.6 787.0,531.4 791.9,558.3 796.7,563.7 801.6,579.9 806.5,601.4 811.4,623.0 816.3,623.0 821.2,623.0 826.1,623.0 831.0,623.0 835.9,623.0 840.8,623.0 845.7,623.0 850.6,623.0 855.5,623.0 860.4,623.0"/>
<polyline stroke="#bcbd22" points="161.1,623.0 165.9,623.0 170.8,623.0 175.7,623.0 180.6,623.0 185.5,623.0 190.4,623.0 195.3,623.0 200.2,623.0 205.1,623.0 210.0,623.0 214.9,623.0 219.8,623.0 224.7,623.0 229.5,623.0 234.4,623.0 239.3,623.0 244.2,623.0 249.1,623.0 254.0,623.0 258.9,623.0 263.8,623.0 268.7,623.0 273.6,623.0 278.5,623.0 283.4,623.0 288.3,623.0 293.2,623.0 298.0,623.0 302.9,623.0 307.8,623.0 312.7,623.0 317.6,623.0 322.5,623.0 327.4,623.0 332.3,623.0 337.2,623.0 342.1,623.0 347.0,623.0 351.9,623.0 356.8,623.0 361.7,623.0 366.5,596.0 371.4,558.3 376.3,547.5 381.2,536.8 386.1,526.0 391.0,526.0 395.9,531.4 400.8,520.6 405.7,520.6 410.6,515.2 415.5,509.8 420.4,509.8 425.3,504.4 430.1,504.4 435.0,504.4 439.9,488.2 444.8,466.7 449.7,455.9 454.6,434.4 459.5,434.4 464.4,429.0 469.3,412.8 474.2,407.4 479.1,412.8 484.0,434.4 488.9,439.7 493.8,439.7 498.6,423.6 503.5,439.7 508.4,434.4 513.3,429.0 518.2,439.7 523.1,439.7 528.0,445.1 532.9,439.7 537.8,455.9 542.7,445.1 547.6,434.4 552.5,439.7 557.4,461.3 562.3,477.5 567.1,488.2 572.0,477.5 576.9,477.5 581.8,488.2 586.7,461.3 591.6,461.3 596.5,455.9 601.4,472.1 606.3,482.9 611.2,477.5 616.1,482.9 621.0,472.1 625.9,482.9 630.7,482.9 635.6,466.7 640.5,477.5 645.4,482.9 650.3,482.9 655.2,472.1 660.1,482.9 665.0,455.9 669.9,472.1 674.8,450.5 679.7,477.5 684.6,461.3 689.5,488.2 694.4,455.9 699.2,455.9 704.1,461.3 709.0,461.3 713.9,466.7 718.8,461.3 723.7,466.7 728.6,477.5 733.5,461.3 738.4,488.2 743.3,509.8 748.5,448.4 754.4,433.8 759.4,433.8 764.4,438.7 768.5,452.7 772.9,455.9 777.5,536.8 782.4,547.5 787.3,558.3 792.2,563.7 797.1,574.5 802.0,574.5 806.9,590.7 811.8,623.0 816.7,623.0 821.6,623.0 826.5,623.0 831.3,623.0 836.2,623.0 841.1,623.0 846.0,623.0 850.9,623.0 855.8,623.0 860.7,623.0"/>
<polyline stroke="#17becf" points="163.0,623.0 167.9,623.0 172.8,623.0 177.7,623.0 182.6,623.0 187.5,623.0 192.4,623.0 197.3,623.0 202.1,623.0 207.0,623.0 211.9,623.0 216.8,623.0 221.7,623.0 226.6,623.0 231.5,623.0 236.4,623.0 241.3,623.0 246.2,623.0 251.1,623.0 256.0,623.0 260.9,623.0 265.8,623.0 270.6,623.0 275.5,623.0 280.4,623.0 285.3,623.0 290.2,623.0 295.1,623.0 300.0,623.0 304.9,623.0 309.8,623.0 314.7,623.0 319.6,623.0 324.5,623.0 329.4,623.0 334.2,623.0 339.1,623.0 344.0,623.0 348.9,623.0 353.8,623.0 358.7,623.0 363.6,623.0 368.5,596.0 373.4,569.1 378.3,569.1 383.2,558.3 388.1,531.4 393.0,536.8 397.9,531.4 402.7,542.1 407.6,536.8 412.5,526.0 417.4,531.4 422.3,542.1 427.2,520.6 432.1,515.2 437.0,504.4 441.9,488.2 446.8,499.0 451.7,509.8 456.6,515.2 461.5,509.8 466.3,509.8 471.2,509.8 476.1,509.8 481.0,520.6 485.9,509.8 490.8,509.8 495.7,504.4 500.6,509.8 505.5,509.8 510.4,504.4 515.3,515.2 520.2,515.2 525.1,509.8 530.0,493.6 534.8,472.1 539.7,455.9 544.6,450.5 549.5,434.4 554.4,455.9 559.3,472.1 564.2,472.1 569.1,482.9 574.0,493.6 578.9,509.8 583.8,488.2 588.7,504.4 593.6,472.1 598.5,455.9 603.3,466.7 608.2,466.7 613.1,455.9 618.0,472.1 622.9,472.1 627.8,482.9 632.7,477.5 637.6,482.9 642.5,482.9 647.4,477.5 651.4,418.7 657.2,379.9 662.2,375.1 667.2,391.2 672.8,411.4 678.7,420.0 681.6,461.3 686.5,461.3 691.4,482.9 696.3,466.7 701.2,472.1 706.1,472.1 711.0,461.3 715.9,450.5 720.8,461.3 725.7,477.5 730.6,466.7 735.4,450.5 740.3,461.3 745.2,455.9 750.1,450.5 755.0,461.3 759.9,482.9 764.8,466.7 769.7,461.3 774.6,493.6 779.5,493.6 784.4,509.8 789.3,531.4 794.2,552.9 799.1,558.3 803.9,574.5 808.8,623.0 813.7,623.0 818.6,623.0 823.5,623.0 828.4,623.0 833.3,623.0 838.2,623.0 843.1,623.0 848.0,623.0 852.9,623.0 857.8,623.0 862.7,623.0"/>
<polyline stroke="#1f77b4" points="161.2,623.0 166.1,623.0 171.0,623.0 175.9,623.0 180.8,623.0 185.7,623.0 190.6,623.0 195.4,623.0 200.3,623.0 205.2,623.0 210.1,623.0 215.0,623.0 219.9,623.0 224.8,623.0 229.7,623.0 234.6,623.0 239.5,623.0 244.4,623.0 249.3,623.0 254.2,623.0 259.1,623.0 263.9,623.0 268.8,623.0 273.7,623.0 278.6,623.0 283.5,623.0 288.4,623.0 293.3,623.0 298.2,623.0 303.1,623.0 308.0,623.0 312.9,623.0 317.8,623.0 322.7,623.0 327.6,623.0 332.4,623.0 337.3,623.0 342.2,623.0 347.1,623.0 352.0,623.0 356.9,623.0 361.8,623.0 366.7,612.2 371.6,596.0 376.5,585.3 381.4,579.9 386.3,569.1 391.2,558.3 396.0,552.9 400.9,552.9 405.8,531.4 410.7,526.0 415.6,526.0 420.5,531.4 425.4,536.8 430.3,526.0 435.2,526.0 440.1,509.8 445.0,520.6 449.9,493.6 454.8,482.9 459.7,482.9 464.5,477.5 469.4,472.1 474.3,461.3 479.2,445.1 484.1,434.4 489.0,461.3 493.9,461.3 498.8,461.3 503.7,466.7 508.6,466.7 513.5,461.3 518.4,445.1 523.3,455.9 528.2,482.9 533.0,472.1 537.9,461.3 542.8,482.9 547.7,482.9 552.6,499.0 557.5,493.6 562.4,504.4 567.3,499.0 572.2,472.1 577.1,488.2 582.0,482.9 586.9,499.0 591.8,504.4 596.6,472.1 601.5,488.2 606.4,499.0 612.9,520.1 619.1,533.0 624.1,541.6 629.9,541.6 635.2,541.6 639.9,526.5 644.6,536.2 651.1,528.1 659.3,520.1 665.1,472.1 670.0,461.3 674.9,466.7 679.8,461.3 684.7,455.9 689.6,450.5 694.5,445.1 699.4,466.7 704.3,472.1 709.2,493.6 714.1,472.1 719.0,455.9 723.9,445.1 728.8,472.1 733.6,499.0 738.5,504.4 743.4,499.0 748.3,509.8 753.2,499.0 758.1,477.5 763.0,482.9 767.9,477.5 772.8,509.8 777.7,526.0 782.6,531.4 787.5,542.1 792.4,563.7 797.2,579.9 802.1,585.3 807.0,596.0 811.9,623.0 816.8,623.0 821.7,623.0 826.6,623.0 831.5,623.0 836.4,623.0 841.3,623.0 846.2,623.0 851.1,623.0 856.0,623.0 860.9,623.0"/>
<polyline stroke="#ff7f0e" points="160.9,623.0 165.8,623.0 170.7,623.0 175.5,623.0 180.4,623.0 185.3,623.0 190.2,623.0 195.1,623.0 200.0,623.0 204.9,623.0 209.8,623.0 214.7,623.0 219.6,623.0 224.5,623.0 229.4,623.0 234.3,623.0 239.2,623.0 244.0,623.0 248.9,623.0 253.8,623.0 258.7,623.0 263.6,623.0 268.5,623.0 273.4,623.0 278.3,623.0 283.2,623.0 288.1,623.0 293.0,623.0 297.9,623.0 302.8,623.0 307.7,623.0 312.5,623.0 317.4,623.0 322.3,623.0 327.2,623.0 332.1,623.0 337.0,623.0 341.9,623.0 346.8,623.0 351.7,623.0 356.6,623.0 361.5,623.0 366.4,606.8 371.3,579.9 376.1,558.3 381.0,547.5 385.9,542.1 390.8,542.1 395.7,526.0 400.6,531.4 405.5,520.6 410.4,509.8 415.3,504.4 420.2,504.4 425.1,499.0 430.0,488.2 434.9,472.1 439.8,455.9 444.6,450.5 449.5,434.4 454.4,429.0 459.3,439.7 464.2,423.6 469.1,412.8 474.0,407.4 478.9,402.0 483.8,402.0 488.7,407.4 493.6,412.8 498.5,423.6 503.4,423.6 508.3,445.1 513.1,482.9 518.0,493.6 522.9,499.0 527.8,504.4 532.7,504.4 537.6,482.9 542.5,455.9 547.4,482.9 552.3,461.3 557.2,455.9 560.1,533.0 566.5,520.1 571.2,529.8 575.9,536.8 580.9,536.2 588.8,534.6 592.1,526.5 598.5,520.1 603.2,537.8 607.9,541.6 617.6,541.6 620.8,533.0 624.1,520.1 630.6,450.5 635.5,445.1 640.4,455.9 645.2,472.1 650.1,466.7 655.0,477.5 659.9,461.3 664.8,477.5 669.7,466.7 674.6,477.5 679.5,488.2 684.4,477.5 689.3,461.3 694.2,455.9 699.1,477.5 704.0,488.2 708.9,488.2 713.7,504.4 718.6,504.4 723.5,520.6 728.4,520.6 733.3,509.8 738.2,515.2 743.1,520.6 748.0,526.0 752.9,520.6 757.8,536.8 762.7,531.4 767.6,526.0 772.5,542.1 777.3,547.5 782.2,552.9 787.1,569.1 792.0,574.5 796.9,590.7 801.8,601.4 806.7,623.0 811.6,623.0 816.5,623.0 821.4,623.0 826.3,623.0 831.2,623.0 836.1,623.0 841.0,623.0 845.8,623.0 850.7,623.0 855.6,623.0 860.5,623.0"/>
<polyline stroke="#2ca02c" points="165.0,623.0 169.9,623.0 174.8,623.0 179.7,623.0 184.6,623.0 189.5,623.0 194.4,623.0 199.3,623.0 204.2,623.0 209.1,623.0 214.0,623.0 218.9,623.0 223.7,623.0 228.6,623.0 233.5,623.0 238.4,623.0 243.3,623.0 248.2,623.0 253.1,623.0 258.0,623.0 262.9,623.0 267.8,623.0 272.7,623.0 277.6,623.0 282.5,623.0 287.4,623.0 292.2,623.0 297.1,623.0 302.0,623.0 306.9,623.0 311.8,623.0 316.7,623.0 321.6,623.0 326.5,623.0 331.4,623.0 336.3,623.0 341.2,623.0 346.1,623.0 351.0,623.0 355.8,623.0 360.7,623.0 365.6,617.6 370.5,596.0 375.4,585.3 380.3,563.7 385.2,563.7 390.1,536.8 395.0,526.0 399.9,509.8 404.8,509.8 409.7,509.8 414.6,509.8 419.5,509.8 424.3,504.4 429.2,509.8 434.1,499.0 439.0,477.5 443.9,477.5 448.8,482.9 453.7,472.1 458.6,461.3 463.5,439.7 468.4,450.5 473.3,472.1 478.2,455.9 483.1,472.1 488.0,445.1 492.8,429.0 497.7,423.6 502.6,429.0 507.5,434.4 512.4,450.5 517.3,450.5 522.2,429.0 527.1,439.7 532.0,434.4 536.9,423.6 541.8,412.8 546.7,429.0 551.6,423.6 556.4,418.2 561.3,445.1 566.2,450.5 571.1,445.1 576.0,450.5 580.9,455.9 585.8,461.3 590.7,482.9 595.6,499.0 600.5,520.6 605.4,531.4 610.3,526.0 615.2,509.8 620.1,509.8 624.9,477.5 629.8,493.6 634.7,499.0 639.6,493.6 644.5,466.7 649.4,461.3 654.3,461.3 659.2,439.7 664.1,450.5 669.0,482.9 673.9,472.1 678.8,493.6 683.7,466.7 688.5,493.6 693.4,504.4 698.3,482.9 703.2,482.9 708.1,461.3 713.0,488.2 717.9,477.5 722.8,466.7 727.1,440.0 732.1,423.6 737.1,437.0 742.9,444.1 748.5,455.9 752.0,445.1 757.0,454.3 761.4,455.9 766.8,493.6 771.7,509.8 776.6,520.6 781.5,526.0 786.4,531.4 791.3,542.1 796.2,552.9 801.1,585.3 806.0,590.7 810.9,623.0 815.8,623.0 820.7,623.0 825.5,623.0 830.4,623.0 835.3,623.0 840.2,623.0 845.1,623.0 850.0,623.0 854.9,623.0 859.8,623.0 864.7,623.0"/>
<polyline stroke="#d62728" points="164.2,623.0 169.1,623.0 174.0,623.0 178.9,623.0 183.8,623.0 188.7,623.0 193.6,623.0 198.5,623.0 203.4,623.0 208.3,623.0 213.2,623.0 218.1,623.0 223.0,623.0 227.8,623.0 232.7,623.0 237.6,623.0 242.5,623.0 247.4,623.0 252.3,623.0 257.2,623.0 262.1,623.0 267.0,623.0 271.9,623.0 276.8,623.0 281.7,623.0 286.6,623.0 291.5,623.0 296.3,623.0 301.2,623.0 306.1,623.0 311.0,623.0 315.9,623.0 320.8,623.0 325.7,623.0 330.6,623.0 335.5,623.0 340.4,623.0 345.3,623.0 350.2,623.0 355.1,623.0 360.0,623.0 364.8,617.6 369.7,596.0 374.6,579.9 379.5,579.9 384.4,569.1 389.3,563.7 394.2,563.7 399.1,552.9 404.0,547.5 408.9,558.3 413.8,552.9 418.7,542.1 423.6,542.1 428.4,531.4 433.3,536.8 438.2,526.0 443.1,520.6 448.0,520.6 452.9,509.8 457.8,493.6 462.7,493.6 467.6,504.4 472.5,509.8 477.4,504.4 482.3,509.8 487.2,509.8 492.1,509.8 496.9,509.8 501.8,515.2 506.7,509.8 511.6,509.8 516.5,509.8 521.4,515.2 526.3,493.6 531.2,504.4 536.1,493.6 541.0,472.1 545.9,477.5 550.8,509.8 555.7,520.6 560.6,536.8 565.4,526.0 570.3,509.8 575.2,504.4 580.1,477.5 585.0,477.5 589.9,472.1 594.8,509.8 599.7,504.4 604.6,509.8 609.5,520.6 614.4,526.0 619.3,488.2 624.2,488.2 629.0,482.9 633.9,499.0 638.8,509.8 643.7,504.4 648.6,499.0 653.5,482.9 658.4,466.7 663.3,477.5 668.2,461.3 673.1,434.4 678.0,450.5 681.6,520.1 686.3,526.5 692.7,526.5 697.7,531.4 702.4,526.5 706.2,541.6 712.1,536.2 716.8,526.5 722.0,531.4 726.9,515.2 731.8,504.4 736.7,509.8 741.6,531.4 746.5,536.8 751.4,531.4 756.3,520.6 761.2,531.4 766.0,542.1 770.9,547.5 775.8,552.9 780.7,547.5 785.6,552.9 790.5,563.7 795.4,574.5 800.3,590.7 805.2,612.2 810.1,623.0 815.0,623.0 819.9,623.0 824.8,623.0 829.6,623.0 834.5,623.0 839.4,623.0 844.3,623.0 849.2,623.0 854.1,623.0 859.0,623.0 863.9,623.0"/>
<polyline stroke="#9467bd" points="161.7,623.0 166.6,623.0 171.5,623.0 176.4,623.0 181.3,623.0 186.2,623.0 191.1,623.0 196.0,623.0 200.9,623.0 205.8,623.0 210.7,623.0 215.5,623.0 220.4,623.0 225.3,623.0 230.2,623.0 235.1,623.0 240.0,623.0 244.9,623.0 249.8,623.0 254.7,623.0 259.6,623.0 264.5,623.0 269.4,623.0 274.3,623.0 279.2,623.0 284.0,623.0 288.9,623.0 293.8,623.0 298.7,623.0 303.6,623.0 308.5,623.0 313.4,623.0 318.3,623.0 323.2,623.0 328.1,623.0 333.0,623.0 337.9,623.0 342.8,623.0 347.6,623.0 352.5,623.0 357.4,623.0 362.3,623.0 367.2,601.4 372.1,579.9 377.0,569.1 381.9,563.7 386.8,563.7 391.7,563.7 396.6,542.1 401.5,547.5 406.4,542.1 411.3,552.9 416.1,542.1 421.0,526.0 425.9,526.0 430.8,515.2 435.7,504.4 440.6,482.9 445.5,482.9 450.4,472.1 455.3,466.7 460.2,477.5 465.1,455.9 470.0,423.6 474.9,434.4 479.8,418.2 484.6,423.6 489.5,412.8 494.4,418.2 499.3,418.2 504.2,412.8 509.1,412.8 514.0,412.8 518.9,423.6 523.8,429.0 528.7,423.6 533.6,434.4 538.5,418.2 543.4,423.6 548.2,429.0 553.1,439.7 558.0,429.0 562.9,418.2 567.8,423.6 572.7,429.0 577.6,423.6 582.5,423.6 587.4,429.0 592.3,429.0 597.2,418.2 602.1,434.4 607.0,445.1 611.9,439.7 616.7,439.7 621.6,439.7 626.5,439.7 631.4,445.1 636.3,450.5 641.2,450.5 646.1,450.5 651.0,450.5 655.9,434.4 660.8,429.0 665.7,423.6 670.6,434.4 675.5,439.7 680.4,461.3 685.2,461.3 690.1,461.3 695.0,445.1 699.9,455.9 704.8,439.7 709.7,472.1 714.6,466.7 719.5,461.3 724.4,466.7 729.3,466.7 734.2,477.5 739.1,455.9 744.0,461.3 748.8,466.7 753.7,466.7 758.6,482.9 763.5,488.2 768.4,499.0 773.3,493.6 778.2,504.4 783.1,509.8 788.0,531.4 792.9,526.0 797.8,552.9 802.7,579.9 807.6,606.8 812.5,623.0 817.3,623.0 822.2,623.0 827.1,623.0 832.0,623.0 836.9,623.0 841.8,623.0 846.7,623.0 851.6,623.0 856.5,623.0 861.4,623.0"/>
<polyline stroke="#8c564b" points="160.4,623.0 165.3,623.0 170.2,623.0 175.1,623.0 180.0,623.0 184.9,623.0 189.8,623.0 194.7,623.0 199.6,623.0 204.5,623.0 209.4,623.0 214.3,623.0 219.2,623.0 224.0,623.0 228.9,623.0 233.8,623.0 238.7,623.0 243.6,623.0 248.5,623.0 253.4,623.0 258.3,623.0 263.2,623.0 268.1,623.0 273.0,623.0 277.9,623.0 282.8,623.0 287.7,623.0 292.5,623.0 297.4,623.0 302.3,623.0 307.2,623.0 312.1,623.0 317.0,623.0 321.9,623.0 326.8,623.0 331.7,623.0 336.6,623.0 341.5,623.0 346.4,623.0 351.3,623.0 356.1,623.0 361.0,623.0 365.9,617.6 370.8,596.0 375.7,574.5 380.6,563.7 385.5,542.1 390.4,552.9 395.3,542.1 400.2,536.8 405.1,531.4 410.0,520.6 414.9,526.0 419.8,526.0 424.6,531.4 429.5,536.8 434.4,531.4 439.3,504.4 444.2,482.9 449.1,482.9 454.0,466.7 458.9,439.7 463.8,445.1 468.7,455.9 473.6,461.3 478.5,439.7 483.4,450.5 488.3,445.1 493.1,450.5 498.0,461.3 502.9,434.4 507.8,423.6 512.7,418.2 517.6,434.4 522.5,429.0 527.4,434.4 532.3,450.5 537.2,455.9 542.1,434.4 547.0,429.0 551.9,434.4 556.7,418.2 561.6,412.8 566.5,418.2 571.4,429.0 576.3,434.4 581.2,439.7 586.1,455.9 591.0,466.7 595.9,450.5 600.8,461.3 605.7,455.9 610.6,461.3 615.5,472.1 620.4,461.3 625.2,455.9 630.1,450.5 635.0,450.5 639.9,434.4 644.8,439.7 649.7,423.6 654.6,439.7 659.5,423.6 664.4,423.6 669.3,429.0 674.2,439.7 679.1,461.3 684.0,472.1 688.9,461.3 693.7,461.3 698.6,450.5 701.6,427.3 705.7,421.4 710.1,417.1 715.1,407.1 720.0,423.0 724.2,440.0 728.0,499.0 732.9,477.5 737.8,488.2 742.7,504.4 747.6,509.8 752.5,520.6 757.3,520.6 762.2,520.6 767.1,515.2 772.0,531.4 776.9,542.1 781.8,552.9 786.7,569.1 791.6,574.5 796.5,585.3 801.4,596.0 806.3,612.2 811.2,623.0 816.1,623.0 821.0,623.0 825.8,623.0 830.7,623.0 835.6,623.0 840.5,623.0 845.4,623.0 850.3,623.0 855.2,623.0 860.1,623.0"/>
<polyline stroke="#e377c2" points="161.5,623.0 166.4,623.0 171.2,623.0 176.1,623.0 181.0,623.0 185.9,623.0 190.8,623.0 195.7,623.0 200.6,623.0 205.5,623.0 210.4,623.0 215.3,623.0 220.2,623.0 225.1,623.0 230.0,623.0 234.9,623.0 239.7,623.0 244.6,623.0 249.5,623.0 254.4,623.0 259.3,623.0 264.2,623.0 269.1,623.0 274.0,623.0 278.9,623.0 283.8,623.0 288.7,623.0 293.6,623.0 298.5,623.0 303.3,623.0 308.2,623.0 313.1,623.0 318.0,623.0 322.9,623.0 327.8,623.0 332.7,623.0 337.6,623.0 342.5,623.0 347.4,623.0 352.3,623.0 357.2,623.0 362.1,623.0 367.0,612.2 371.8,590.7 376.7,585.3 381.6,579.9 386.5,574.5 391.4,569.1 396.3,563.7 401.2,552.9 406.1,569.1 411.0,563.7 415.9,563.7 420.8,558.3 425.7,552.9 430.6,552.9 435.5,531.4 440.3,531.4 445.2,509.8 450.1,499.0 455.0,472.1 459.9,504.4 464.8,477.5 469.7,477.5 474.6,461.3 479.5,455.9 484.4,461.3 489.3,450.5 494.2,455.9 499.1,472.1 503.9,477.5 508.8,450.5 513.7,450.5 518.6,488.2 523.5,477.5 528.4,493.6 533.3,488.2 538.2,499.0 543.1,504.4 548.0,493.6 552.9,493.6 557.8,499.0 562.7,499.0 567.6,466.7 572.4,482.9 577.3,488.2 582.2,493.6 587.1,499.0 592.0,493.6 596.9,488.2 601.8,488.2 606.7,499.0 611.6,509.8 616.5,509.8 621.4,536.8 626.3,520.6 631.2,520.6 636.1,520.6 640.9,499.0 645.8,499.0 650.7,520.6 655.6,526.0 660.5,477.5 665.4,466.7 670.3,461.3 675.2,488.2 680.1,509.8 685.0,520.6 689.9,515.2 694.8,493.6 699.7,520.6 704.5,515.2 709.4,526.0 714.3,542.1 719.2,536.8 724.1,547.5 729.0,536.8 733.9,536.8 738.8,531.4 743.7,526.0 748.6,536.8 753.5,542.1 758.4,520.6 763.3,509.8 768.2,499.0 773.0,493.6 777.9,504.4 782.8,499.0 787.7,509.8 792.6,536.8 797.5,569.1 802.4,563.7 807.3,596.0 812.2,623.0 817.1,623.0 822.0,623.0 826.9,623.0 831.8,623.0 836.7,623.0 841.5,623.0 846.4,623.0 851.3,623.0 856.2,623.0 861.1,623.0"/>
<polyline stroke="#7f7f7f" points="164.5,623.0 169.4,623.0 174.3,623.0 179.2,623.0 184.1,623.0 189.0,623.0 193.9,623.0 198.8,623.0 203.7,623.0 208.6,623.0 213.5,623.0 218.4,623.0 223.3,623.0 228.1,623.0 233.0,623.0 237.9,623.0 242.8,623.0 247.7,623.0 252.6,623.0 257.5,623.0 262.4,623.0 267.3,623.0 272.2,623.0 277.1,623.0 282.0,623.0 286.9,623.0 291.8,623.0 296.6,623.0 301.5,623.0 306.4,623.0 311.3,623.0 316.2,623.0 321.1,623.0 326.0,623.0 330.9,623.0 335.8,623.0 340.7,623.0 345.6,623.0 350.5,623.0 355.4,623.0 360.2,623.0 365.1,617.6 370.0,601.4 374.9,590.7 379.8,585.3 384.7,579.9 389.6,579.9 394.5,569.1 399.4,574.5 404.3,558.3 409.2,552.9 414.1,558.3 419.0,547.5 423.9,558.3 428.7,547.5 433.6,536.8 438.5,520.6 443.4,520.6 448.3,526.0 453.2,520.6 458.1,509.8 463.0,482.9 467.9,472.1 472.8,472.1 477.7,466.7 482.6,477.5 487.5,493.6 492.4,488.2 497.2,504.4 502.1,504.4 507.0,499.0 511.9,493.6 516.8,482.9 521.7,504.4 526.6,488.2 531.5,509.8 536.4,509.8 541.3,493.6 546.2,493.6 551.1,493.6 556.0,482.9 560.8,472.1 565.7,482.9 570.6,499.0 575.5,499.0 580.4,493.6 585.3,499.0 590.2,493.6 595.1,509.8 600.0,515.2 604.9,515.2 609.8,509.8 614.7,499.0 619.6,499.0 624.5,499.0 629.3,504.4 634.2,493.6 639.1,488.2 644.0,482.9 648.9,461.3 653.8,461.3 658.7,466.7 663.6,461.3 668.5,455.9 673.4,445.1 678.3,461.3 683.2,461.3 688.1,450.5 693.0,423.6 697.8,434.4 702.7,429.0 707.6,445.1 712.5,450.5 717.4,434.4 722.3,418.2 727.2,434.4 732.1,450.5 737.0,461.3 741.9,455.9 746.8,455.9 751.7,466.7 756.6,482.9 761.4,504.4 766.3,499.0 771.2,520.6 776.1,515.2 781.0,526.0 785.9,542.1 790.8,558.3 795.7,563.7 800.6,579.9 805.5,601.4 810.4,623.0 815.3,623.0 820.2,623.0 825.1,623.0 829.9,623.0 834.8,623.0 839.7,623.0 844.6,623.0 849.5,623.0 854.4,623.0 859.3,623.0 864.2,623.0"/>
<polyline stroke="#bcbd22" points="164.4,623.0 169.3,623.0 174.2,623.0 179.1,623.0 184.0,623.0 188.9,623.0 193.8,623.0 198.7,623.0 203.6,623.0 208.5,623.0 213.3,623.0 218.2,623.0 223.1,623.0 228.0,623.0 232.9,623.0 237.8,623.0 242.7,623.0 247.6,623.0 252.5,623.0 257.4,623.0 262.3,623.0 267.2,623.0 272.1,623.0 277.0,623.0 281.8,623.0 286.7,623.0 291.6,623.0 296.5,623.0 301.4,623.0 306.3,623.0 311.2,623.0 316.1,623.0 321.0,623.0 325.9,623.0 330.8,623.0 335.7,623.0 340.6,623.0 345.4,623.0 350.3,623.0 355.2,623.0 360.1,623.0 365.0,617.6 369.9,596.0 374.8,579.9 379.7,574.5 384.6,569.1 389.5,569.1 394.4,569.1 399.3,552.9 404.2,547.5 409.1,547.5 413.9,547.5 418.8,536.8 423.7,547.5 428.6,526.0 433.5,509.8 438.4,482.9 443.3,472.1 448.2,488.2 453.1,466.7 458.0,450.5 462.9,434.4 467.8,429.0 472.7,429.0 477.6,407.4 482.4,423.6 487.3,407.4 492.2,418.2 497.1,445.1 502.0,439.7 506.9,450.5 511.8,477.5 516.7,488.2 521.6,488.2 526.5,499.0 531.4,509.8 536.3,526.0 541.2,515.2 546.0,504.4 550.9,493.6 555.8,477.5 560.7,482.9 564.2,427.3 570.0,418.7 574.1,407.4 578.6,407.4 581.5,421.4 585.6,441.4 590.1,472.1 595.0,466.7 599.9,472.1 604.8,455.9 609.7,466.7 614.5,466.7 619.4,466.7 624.3,445.1 629.2,461.3 634.1,445.1 639.0,445.1 643.9,445.1 648.8,434.4 653.7,434.4 658.6,450.5 663.5,466.7 668.4,466.7 673.3,488.2 678.1,472.1 683.0,477.5 687.9,499.0 692.8,455.9 697.7,455.9 702.6,482.9 707.5,515.2 712.4,509.8 717.3,488.2 722.2,482.9 727.1,477.5 732.0,461.3 736.9,455.9 741.8,461.3 746.6,482.9 751.5,493.6 756.4,477.5 761.3,472.1 766.2,488.2 771.1,499.0 776.0,504.4 780.9,499.0 785.8,515.2 790.7,509.8 795.6,520.6 800.5,542.1 805.4,574.5 810.3,623.0 815.1,623.0 820.0,623.0 824.9,623.0 829.8,623.0 834.7,623.0 839.6,623.0 844.5,623.0 849.4,623.0 854.3,623.0 859.2,623.0 864.1,623.0"/>
<polyline stroke="#17becf" points="161.3,623.0 166.2,623.0 171.1,623.0 176.0,623.0 180.9,623.0 185.8,623.0 190.7,623.0 195.6,623.0 200.5,623.0 205.4,623.0 210.2,623.0 215.1,623.0 220.0,623.0 224.9,623.0 229.8,623.0 234.7,623.0 239.6,623.0 244.5,623.0 249.4,623.0 254.3,623.0 259.2,623.0 264.1,623.0 269.0,623.0 273.9,623.0 278.7,623.0 283.6,623.0 288.5,623.0 293.4,623.0 298.3,623.0 303.2,623.0 308.1,623.0 313.0,623.0 317.9,623.0 322.8,623.0 327.7,623.0 332.6,623.0 337.5,623.0 342.4,623.0 347.2,623.0 352.1,623.0 357.0,623.0 361.9,623.0 366.8,606.8 371.7,579.9 376.6,558.3 381.5,542.1 386.4,536.8 391.3,531.4 396.2,531.4 401.1,520.6 406.0,526.0 410.8,515.2 415.7,515.2 420.6,536.8 425.5,520.6 430.4,504.4 435.3,493.6 440.2,477.5 445.1,455.9 450.0,472.1 454.9,455.9 459.8,466.7 464.7,439.7 469.6,434.4 474.5,418.2 479.3,429.0 484.2,418.2 489.1,429.0 494.0,402.0 498.9,412.8 503.8,423.6 508.7,434.4 513.6,423.6 518.5,418.2 523.4,423.6 528.3,423.6 533.2,429.0 538.1,429.0 543.0,429.0 547.8,445.1 552.7,445.1 557.6,445.1 562.5,466.7 567.4,477.5 572.3,493.6 577.2,461.3 582.1,450.5 587.0,455.9 591.9,439.7 596.8,434.4 601.7,439.7 606.6,455.9 611.4,450.5 616.3,455.9 621.2,445.1 626.1,461.3 631.0,461.3 635.9,461.3 640.8,455.9 645.7,450.5 650.6,439.7 655.5,429.0 660.4,434.4 665.3,423.6 670.2,423.6 675.1,434.4 679.9,423.6 684.8,418.2 689.7,429.0 694.6,418.2 701.6,414.4 707.1,401.5 710.7,405.8 716.5,390.7 721.5,396.6 726.5,396.6 730.0,417.9 733.0,431.7 738.7,461.3 743.6,466.7 748.4,472.1 753.3,461.3 758.2,472.1 763.1,482.9 768.0,477.5 772.9,472.1 777.8,482.9 782.7,504.4 787.6,520.6 792.5,531.4 797.4,558.3 802.3,585.3 807.2,596.0 812.0,623.0 816.9,623.0 821.8,623.0 826.7,623.0 831.6,623.0 836.5,623.0 841.4,623.0 846.3,623.0 851.2,623.0 856.1,623.0 861.0,623.0"/>
<polyline stroke="#1f77b4" points="164.0,623.0 168.9,623.0 173.8,623.0 178.7,623.0 183.6,623.0 188.5,623.0 193.4,623.0 198.3,623.0 203.2,623.0 208.1,623.0 213.0,623.0 217.9,623.0 222.7,623.0 227.6,623.0 232.5,623.0 237.4,623.0 242.3,623.0 247.2,623.0 252.1,623.0 257.0,623.0 261.9,623.0 266.8,623.0 271.7,623.0 276.6,623.0 281.5,623.0 286.4,623.0 291.2,623.0 296.1,623.0 301.0,623.0 305.9,623.0 310.8,623.0 315.7,623.0 320.6,623.0 325.5,623.0 330.4,623.0 335.3,623.0 340.2,623.0 345.1,623.0 350.0,623.0 354.9,623.0 359.7,623.0 364.6,623.0 369.5,596.0 374.4,569.1 379.3,569.1 384.2,569.1 389.1,563.7 394.0,542.1 398.9,547.5 403.8,563.7 408.7,563.7 413.6,552.9 418.5,542.1 423.3,542.1 428.2,526.0 433.1,531.4 438.0,526.0 442.9,520.6 447.8,515.2 452.7,493.6 457.6,472.1 462.5,466.7 467.4,466.7 472.3,488.2 477.2,493.6 482.1,472.1 487.0,482.9 491.8,488.2 496.7,477.5 501.6,499.0 506.5,509.8 511.4,499.0 516.3,509.8 521.2,504.4 526.1,520.6 531.0,520.6 535.9,526.0 540.8,520.6 545.7,526.0 550.6,531.4 555.5,499.0 560.3,509.8 565.2,526.0 570.1,520.6 575.0,515.2 579.9,515.2 584.8,531.4 589.7,520.6 594.6,542.1 599.5,542.1 604.4,536.8 609.3,526.0 614.2,526.0 619.1,526.0 623.9,515.2 628.8,520.6 633.7,520.6 638.6,520.6 643.5,515.2 648.4,499.0 653.3,509.8 658.2,493.6 663.1,466.7 668.0,461.3 672.9,477.5 677.8,477.5 682.7,488.2 687.6,499.0 692.4,499.0 697.3,488.2 702.2,493.6 707.1,493.6 712.0,488.2 715.9,527.1 718.3,536.2 723.9,536.2 729.7,536.2 734.1,527.1 741.4,477.5 746.3,499.0 751.2,493.6 756.1,515.2 760.9,520.6 765.8,515.2 770.7,526.0 775.6,531.4 780.5,515.2 785.4,515.2 790.3,542.1 795.2,558.3 800.1,585.3 805.0,606.8 809.9,623.0 814.8,623.0 819.7,623.0 824.5,623.0 829.4,623.0 834.3,623.0 839.2,623.0 844.1,623.0 849.0,623.0 853.9,623.0 858.8,623.0 863.7,623.0"/>
<polyline stroke="#ff7f0e" points="164.2,623.0 169.1,623.0 174.0,623.0 178.9,623.0 183.8,623.0 188.7,623.0 193.6,623.0 198.5,623.0 203.4,623.0 208.3,623.0 213.2,623.0 218.1,623.0 223.0,623.0 227.8,623.0 232.7,623.0 237.6,623.0 242.5,623.0 247.4,623.0 252.3,623.0 257.2,623.0 262.1,623.0 267.0,623.0 271.9,623.0 276.8,623.0 281.7,623.0 286.6,623.0 291.5,623.0 296.3,623.0 301.2,623.0 306.1,623.0 311.0,623.0 315.9,623.0 320.8,623.0 325.7,623.0 330.6,623.0 335.5,623.0 340.4,623.0 345.3,623.0 350.2,623.0 355.1,623.0 360.0,623.0 364.8,617.6 369.7,596.0 374.6,585.3 379.5,574.5 384.4,574.5 389.3,569.1 394.2,552.9 399.1,547.5 404.0,542.1 408.9,542.1 413.8,536.8 418.7,531.4 423.6,526.0 428.4,515.2 433.3,504.4 438.2,488.2 443.1,488.2 448.0,472.1 452.9,455.9 457.8,445.1 462.7,450.5 467.6,445.1 472.5,439.7 477.4,455.9 482.3,461.3 487.2,439.7 492.1,455.9 496.9,455.9 501.8,429.0 506.7,423.6 511.6,434.4 516.5,439.7 521.4,434.4 526.3,445.1 531.2,439.7 536.1,450.5 541.0,455.9 545.9,466.7 550.8,439.7 555.7,439.7 560.6,450.5 565.4,466.7 570.3,477.5 575.2,472.1 580.1,461.3 585.0,461.3 589.9,450.5 594.8,466.7 599.7,472.1 604.6,477.5 609.5,461.3 614.4,466.7 619.3,461.3 624.2,472.1 629.0,455.9 633.9,450.5 638.8,450.5 643.7,445.1 648.6,445.1 653.5,445.1 658.4,450.5 663.3,461.3 668.2,445.1 673.1,434.4 678.0,455.9 682.9,466.7 687.8,455.9 692.7,466.7 697.5,472.1 702.4,461.3 707.3,461.3 712.2,455.9 717.1,466.7 722.0,466.7 726.9,482.9 731.8,509.8 736.7,515.2 741.6,526.0 746.5,526.0 751.4,515.2 756.3,515.2 761.2,493.6 766.0,482.9 770.9,504.4 775.8,509.8 780.7,509.8 785.6,515.2 790.5,526.0 795.4,531.4 800.3,547.5 805.2,579.9 810.1,623.0 815.0,623.0 819.9,623.0 824.8,623.0 829.6,623.0 834.5,623.0 839.4,623.0 844.3,623.0 849.2,623.0 854.1,623.0 859.0,623.0 863.9,623.0"/>
<polyline stroke="#2ca02c" points="162.9,623.0 167.8,623.0 172.7,623.0 177.6,623.0 182.5,623.0 187.4,623.0 192.3,623.0 197.2,623.0 202.1,623.0 207.0,623.0 211.9,623.0 216.7,623.0 221.6,623.0 226.5,623.0 231.4,623.0 236.3,623.0 241.2,623.0 246.1,623.0 251.0,623.0 255.9,623.0 260.8,623.0 265.7,623.0 270.6,623.0 275.5,623.0 280.3,623.0 285.2,623.0 290.1,623.0 295.0,623.0 299.9,623.0 304.8,623.0 309.7,623.0 314.6,623.0 319.5,623.0 324.4,623.0 329.3,623.0 334.2,623.0 339.1,623.0 344.0,623.0 348.8,623.0 353.7,623.0 358.6,623.0 363.5,623.0 368.4,574.5 373.3,558.3 378.2,552.9 383.1,536.8 388.0,526.0 392.9,515.2 397.8,509.8 402.7,520.6 407.6,531.4 412.5,520.6 417.3,520.6 422.2,504.4 427.1,499.0 432.0,488.2 436.9,472.1 441.8,461.3 446.7,450.5 451.6,439.7 456.5,423.6 461.4,423.6 466.3,412.8 471.2,418.2 476.1,423.6 480.9,418.2 485.8,434.4 490.7,418.2 495.6,423.6 500.5,434.4 505.4,434.4 510.3,423.6 515.2,434.4 520.1,434.4 525.0,439.7 529.9,445.1 534.8,450.5 539.7,472.1 544.6,477.5 549.4,461.3 554.3,466.7 559.2,477.5 564.1,488.2 569.0,477.5 573.9,504.4 578.8,493.6 583.7,493.6 588.6,482.9 593.5,493.6 598.4,499.0 603.3,461.3 608.2,461.3 613.1,466.7 617.9,455.9 622.8,472.1 627.7,455.9 632.6,450.5 637.5,429.0 642.4,429.0 647.3,418.2 652.2,423.6 657.1,418.2 662.0,407.4 666.9,412.8 671.8,407.4 676.7,429.0 681.5,423.6 686.4,429.0 691.3,423.6 696.2,423.6 701.1,434.4 706.0,434.4 710.9,429.0 715.8,418.2 720.7,418.2 727.4,527.1 732.1,536.2 736.5,542.1 741.2,534.1 745.9,524.9 750.0,477.5 754.9,472.1 759.8,466.7 764.7,477.5 769.6,477.5 774.5,482.9 779.4,493.6 784.3,493.6 789.2,515.2 794.1,552.9 799.0,547.5 803.9,569.1 808.8,623.0 813.6,623.0 818.5,623.0 823.4,623.0 828.3,623.0 833.2,623.0 838.1,623.0 843.0,623.0 847.9,623.0 852.8,623.0 857.7,623.0 862.6,623.0"/>
<polyline stroke="#d62728" points="161.9,623.0 166.8,623.0 171.7,623.0 176.6,623.0 181.5,623.0 186.3,623.0 191.2,623.0 196.1,623.0 201.0,623.0 205.9,623.0 210.8,623.0 215.7,623.0 220.6,623.0 225.5,623.0 230.4,623.0 235.3,623.0 240.2,623.0 245.1,623.0 250.0,623.0 254.8,623.0 259.7,623.0 264.6,623.0 269.5,623.0 274.4,623.0 279.3,623.0 284.2,623.0 289.1,623.0 294.0,623.0 298.9,623.0 303.8,623.0 308.7,623.0 313.6,623.0 318.4,623.0 323.3,623.0 328.2,623.0 333.1,623.0 338.0,623.0 342.9,623.0 347.8,623.0 352.7,623.0 357.6,623.0 362.5,623.0 367.4,606.8 372.3,579.9 377.2,569.1 382.1,563.7 386.9,552.9 391.8,552.9 396.7,569.1 401.6,558.3 406.5,558.3 411.4,552.9 416.3,547.5 421.2,542.1 426.1,526.0 431.0,504.4 435.9,504.4 440.8,488.2 445.7,488.2 450.6,455.9 455.4,477.5 460.3,482.9 465.2,477.5 470.1,466.7 475.0,461.3 479.9,466.7 484.8,434.4 489.7,423.6 494.6,445.1 499.5,450.5 504.4,472.1 509.3,450.5 514.2,472.1 519.0,493.6 523.9,488.2 528.8,509.8 533.7,504.4 538.6,499.0 543.5,509.8 548.4,509.8 553.3,493.6 558.2,504.4 563.1,499.0 568.0,515.2 572.9,493.6 577.8,499.0 582.7,509.8 587.5,482.9 592.4,466.7 597.3,477.5 602.2,515.2 607.1,509.8 612.0,515.2 616.9,504.4 621.8,504.4 626.7,509.8 631.6,504.4 636.5,493.6 641.4,455.9 646.3,450.5 651.2,455.9 656.0,466.7 660.9,450.5 665.8,493.6 670.7,455.9 675.6,488.2 680.5,472.1 685.4,482.9 690.3,472.1 695.2,499.0 700.1,527.1 705.7,542.1 710.4,531.9 715.9,527.1 719.6,547.5 724.5,542.1 729.4,536.8 734.3,542.1 739.2,536.8 744.1,542.1 749.0,547.5 753.9,547.5 758.8,552.9 763.7,552.9 768.6,547.5 773.5,558.3 778.4,547.5 783.3,563.7 788.1,569.1 793.0,579.9 797.9,590.7 802.8,601.4 807.7,612.2 812.6,623.0 817.5,623.0 822.4,623.0 827.3,623.0 832.2,623.0 837.1,623.0 842.0,623.0 846.9,623.0 851.8,623.0 856.6,623.0 861.5,623.0"/>
<polyline stroke="#9467bd" points="164.8,623.0 169.7,623.0 174.5,623.0 179.4,623.0 184.3,623.0 189.2,623.0 194.1,623.0 199.0,623.0 203.9,623.0 208.8,623.0 213.7,623.0 218.6,623.0 223.5,623.0 228.4,623.0 233.3,623.0 238.2,623.0 243.0,623.0 247.9,623.0 252.8,623.0 257.7,623.0 262.6,623.0 267.5,623.0 272.4,623.0 277.3,623.0 282.2,623.0 287.1,623.0 292.0,623.0 296.9,623.0 301.8,623.0 306.7,623.0 311.5,623.0 316.4,623.0 321.3,623.0 326.2,623.0 331.1,623.0 336.0,623.0 340.9,623.0 345.8,623.0 350.7,623.0 355.6,623.0 360.5,623.0 365.4,617.6 370.3,601.4 375.1,596.0 380.0,590.7 384.9,585.3 389.8,574.5 394.7,569.1 399.6,574.5 404.5,574.5 409.4,574.5 414.3,563.7 419.2,558.3 424.1,547.5 429.0,526.0 433.9,526.0 438.8,504.4 443.6,509.8 448.5,499.0 453.4,493.6 458.3,477.5 463.2,455.9 468.1,472.1 473.0,455.9 477.9,461.3 482.8,445.1 487.7,445.1 492.6,439.7 497.5,472.1 502.4,488.2 507.2,477.5 512.1,488.2 517.0,482.9 521.9,482.9 526.8,504.4 531.7,504.4 536.6,509.8 541.5,499.0 546.4,509.8 551.3,520.6 556.2,493.6 561.1,477.5 566.0,477.5 570.9,499.0 575.7,493.6 580.6,499.0 585.5,482.9 590.4,488.2 595.3,493.6 600.2,499.0 605.1,504.4 610.0,509.8 614.9,526.0 619.8,520.6 624.7,509.8 629.6,499.0 634.5,509.8 639.4,504.4 644.2,504.4 649.1,526.0 654.0,515.2 658.9,499.0 663.8,493.6 668.7,504.4 673.6,509.8 678.5,509.8 683.4,493.6 688.3,499.0 693.2,466.7 698.1,461.3 703.0,461.3 707.8,461.3 712.7,455.9 717.6,472.1 722.5,472.1 727.4,472.1 732.3,450.5 737.2,472.1 742.1,477.5 747.0,482.9 751.9,482.9 756.8,482.9 761.7,466.7 766.6,472.1 771.5,488.2 776.3,493.6 781.2,493.6 786.1,531.4 791.0,526.0 795.9,547.5 800.8,552.9 805.7,569.1 810.6,623.0 815.5,623.0 820.4,623.0 825.3,623.0 830.2,623.0 835.1,623.0 840.0,623.0 844.8,623.0 849.7,623.0 854.6,623.0 859.5,623.0 864.4,623.0"/>
<polyline stroke="#8c564b" points="163.3,623.0 168.2,623.0 173.1,623.0 178.0,623.0 182.8,623.0 187.7,623.0 192.6,623.0 197.5,623.0 202.4,623.0 207.3,623.0 212.2,623.0 217.1,623.0 222.0,623.0 226.9,623.0 231.8,623.0 236.7,623.0 241.6,623.0 246.4,623.0 251.3,623.0 256.2,623.0 261.1,623.0 266.0,623.0 270.9,623.0 275.8,623.0 280.7,623.0 285.6,623.0 290.5,623.0 295.4,623.0 300.3,623.0 305.2,623.0 310.1,623.0 314.9,623.0 319.8,623.0 324.7,623.0 329.6,623.0 334.5,623.0 339.4,623.0 344.3,623.0 349.2,623.0 354.1,623.0 359.0,623.0 363.9,623.0 368.8,601.4 373.7,585.3 378.6,574.5 383.4,574.5 388.3,563.7 393.2,552.9 398.1,542.1 403.0,542.1 407.9,542.1 412.8,536.8 417.7,526.0 422.6,526.0 427.5,504.4 432.4,509.8 437.3,493.6 442.2,499.0 447.0,488.2 451.9,482.9 456.8,472.1 461.7,450.5 466.6,450.5 471.5,445.1 476.4,429.0 481.3,434.4 486.2,455.9 491.1,466.7 496.0,482.9 500.9,482.9 505.8,482.9 510.7,482.9 515.5,488.2 520.4,499.0 525.3,509.8 530.2,515.2 535.1,493.6 540.0,504.4 544.9,488.2 549.8,493.6 554.7,493.6 559.6,493.6 564.5,520.6 569.4,504.4 574.3,515.2 579.2,515.2 584.0,515.2 588.9,493.6 593.8,504.4 598.7,499.0 603.6,488.2 608.5,504.4 613.4,482.9 618.3,455.9 623.2,455.9 628.1,477.5 633.0,466.7 637.9,466.7 642.8,450.5 647.6,455.9 652.5,450.5 657.4,455.9 662.3,439.7 667.2,434.4 672.1,434.4 677.0,434.4 681.9,429.0 686.8,429.0 691.7,429.0 696.6,466.7 701.5,466.7 706.4,477.5 711.3,461.3 716.1,455.9 721.0,472.1 725.9,477.5 730.8,488.2 735.7,493.6 740.6,488.2 745.5,493.6 750.4,493.6 755.3,493.6 760.2,472.1 765.1,493.6 770.0,482.9 774.9,477.5 779.8,477.5 784.6,488.2 789.5,499.0 794.4,509.8 799.3,536.8 804.2,563.7 809.1,623.0 814.0,623.0 818.9,623.0 823.8,623.0 828.7,623.0 833.6,623.0 838.5,623.0 843.4,623.0 848.2,623.0 853.1,623.0 858.0,623.0 862.9,623.0"/>
<polyline stroke="#e377c2" points="161.3,623.0 166.2,623.0 171.1,623.0 176.0,623.0 180.9,623.0 185.8,623.0 190.6,623.0 195.5,623.0 200.4,623.0 205.3,623.0 210.2,623.0 215.1,623.0 220.0,623.0 224.9,623.0 229.8,623.0 234.7,623.0 239.6,623.0 244.5,623.0 249.4,623.0 254.3,623.0 259.1,623.0 264.0,623.0 268.9,623.0 273.8,623.0 278.7,623.0 283.6,623.0 288.5,623.0 293.4,623.0 298.3,623.0 303.2,623.0 308.1,623.0 313.0,623.0 317.9,623.0 322.7,623.0 327.6,623.0 332.5,623.0 337.4,623.0 342.3,623.0 347.2,623.0 352.1,623.0 357.0,623.0 361.9,623.0 366.8,596.0 371.7,558.3 376.6,547.5 381.5,536.8 386.4,526.0 391.2,515.2 396.1,509.8 401.0,509.8 405.9,520.6 410.8,526.0 415.7,536.8 420.6,526.0 425.5,515.2 430.4,504.4 435.3,499.0 440.2,509.8 445.1,504.4 450.0,499.0 454.8,504.4 459.7,493.6 464.6,450.5 469.5,450.5 474.4,455.9 479.3,477.5 484.2,461.3 489.1,472.1 494.0,493.6 498.9,504.4 503.8,493.6 508.7,499.0 513.6,499.0 518.5,515.2 523.3,509.8 528.2,520.6 533.1,515.2 538.0,526.0 542.9,531.4 547.8,531.4 552.7,526.0 557.6,526.0 562.5,515.2 567.4,472.1 572.3,466.7 577.2,466.7 582.1,472.1 587.0,493.6 591.8,509.8 596.7,520.6 601.6,515.2 606.5,515.2 611.4,509.8 616.3,477.5 621.2,477.5 626.1,472.1 631.0,472.1 635.9,466.7 640.8,455.9 645.7,482.9 650.6,477.5 655.4,461.3 660.3,434.4 665.2,439.7 670.1,423.6 675.0,423.6 679.9,434.4 684.8,455.9 689.7,455.9 694.6,461.3 699.5,445.1 704.4,445.1 709.3,472.1 714.2,482.9 719.1,477.5 723.9,466.7 728.8,504.4 733.7,509.8 738.6,509.8 743.5,515.2 748.4,531.4 753.3,515.2 758.2,515.2 763.1,493.6 768.0,488.2 772.9,499.0 777.8,531.4 782.7,536.8 787.6,547.5 792.4,558.3 797.3,579.9 802.2,596.0 807.1,606.8 812.0,623.0 816.9,623.0 821.8,623.0 826.7,623.0 831.6,623.0 836.5,623.0 841.4,623.0 846.3,623.0 851.2,623.0 856.0,623.0 860.9,623.0"/>
<polyline stroke="#7f7f7f" points="161.2,623.0 166.1,623.0 171.0,623.0 175.9,623.0 180.8,623.0 185.7,623.0 190.5,623.0 195.4,623.0 200.3,623.0 205.2,623.0 210.1,623.0 215.0,623.0 219.9,623.0 224.8,623.0 229.7,623.0 234.6,623.0 239.5,623.0 244.4,623.0 249.3,623.0 254.1,623.0 259.0,623.0 263.9,623.0 268.8,623.0 273.7,623.0 278.6,623.0 283.5,623.0 288.4,623.0 293.3,623.0 298.2,623.0 303.1,623.0 308.0,623.0 312.9,623.0 317.8,623.0 322.6,623.0 327.5,623.0 332.4,623.0 337.3,623.0 342.2,623.0 347.1,623.0 352.0,623.0 356.9,623.0 361.8,623.0 366.7,612.2 371.6,590.7 376.5,579.9 381.4,569.1 386.3,563.7 391.1,552.9 396.0,552.9 400.9,536.8 405.8,542.1 410.7,542.1 415.6,531.4 420.5,526.0 425.4,515.2 430.3,504.4 435.2,493.6 440.1,499.0 445.0,477.5 449.9,472.1 454.7,461.3 459.6,466.7 464.5,450.5 469.4,434.4 474.3,429.0 479.2,429.0 484.1,423.6 489.0,434.4 493.9,434.4 498.8,429.0 503.7,439.7 508.6,429.0 513.5,429.0 518.4,418.2 523.2,418.2 528.1,423.6 533.0,423.6 537.9,429.0 542.8,434.4 547.7,450.5 552.6,477.5 557.5,461.3 562.4,455.9 567.3,466.7 572.2,472.1 577.1,466.7 582.0,450.5 586.9,439.7 591.7,455.9 596.6,455.9 601.5,466.7 606.4,466.7 611.3,477.5 616.2,472.1 621.1,482.9 626.0,488.2 630.9,461.3 635.8,472.1 640.7,477.5 645.6,461.3 650.5,445.1 655.3,445.1 660.2,423.6 665.1,418.2 670.0,418.2 674.9,418.2 679.8,429.0 684.7,423.6 689.6,418.2 694.5,412.8 699.4,429.0 704.3,429.0 709.2,423.6 714.1,423.6 719.0,423.6 723.8,434.4 728.7,439.7 733.6,445.1 738.5,461.3 743.4,466.7 748.3,466.7 753.2,461.3 758.1,488.2 763.0,488.2 767.9,509.8 772.8,509.8 777.7,504.4 782.6,504.4 787.5,504.4 792.3,520.6 797.2,563.7 802.1,579.9 807.0,601.4 811.9,623.0 816.8,623.0 821.7,623.0 826.6,623.0 831.5,623.0 836.4,623.0 841.3,623.0 846.2,623.0 851.1,623.0 855.9,623.0 860.8,623.0"/>
<polyline stroke="#bcbd22" points="161.5,623.0 166.4,623.0 171.3,623.0 176.2,623.0 181.1,623.0 186.0,623.0 190.9,623.0 195.8,623.0 200.7,623.0 205.6,623.0 210.5,623.0 215.4,623.0 220.3,623.0 225.1,623.0 230.0,623.0 234.9,623.0 239.8,623.0 244.7,623.0 249.6,623.0 254.5,623.0 259.4,623.0 264.3,623.0 269.2,623.0 274.1,623.0 279.0,623.0 283.9,623.0 288.8,623.0 293.6,623.0 298.5,623.0 303.4,623.0 308.3,623.0 313.2,623.0 318.1,623.0 323.0,623.0 327.9,623.0 332.8,623.0 337.7,623.0 342.6,623.0 347.5,623.0 352.4,623.0 357.3,623.0 362.1,623.0 367.0,612.2 371.9,596.0 376.8,574.5 381.7,569.1 386.6,563.7 391.5,579.9 396.4,579.9 401.3,569.1 406.2,563.7 411.1,569.1 416.0,574.5 420.9,552.9 425.7,531.4 430.6,526.0 435.5,515.2 440.4,509.8 445.3,509.8 450.2,504.4 455.1,499.0 460.0,499.0 464.9,482.9 469.8,472.1 474.7,477.5 479.6,466.7 484.5,472.1 489.4,455.9 494.2,466.7 499.1,461.3 504.0,455.9 508.9,472.1 513.8,450.5 518.7,445.1 523.6,477.5 528.5,461.3 533.4,488.2 538.3,488.2 543.2,461.3 548.1,461.3 553.0,472.1 557.9,461.3 562.7,445.1 567.6,455.9 572.5,455.9 577.4,461.3 582.3,488.2 587.2,499.0 592.1,493.6 597.0,488.2 601.9,482.9 606.8,493.6 611.7,509.8 616.6,526.0 621.5,531.4 626.3,509.8 631.2,504.4 636.1,509.8 641.0,509.8 645.9,504.4 650.8,520.6 655.7,526.0 660.6,520.6 665.5,509.8 670.4,520.6 675.3,515.2 680.2,536.8 685.1,526.0 690.0,536.8 694.8,504.4 699.7,509.8 704.6,531.4 709.5,526.0 714.4,526.0 719.3,520.6 724.2,526.0 729.1,531.4 734.0,536.8 738.9,531.4 743.8,536.8 748.7,536.8 753.6,526.0 758.4,515.2 763.3,509.8 768.2,504.4 773.1,515.2 778.0,531.4 782.9,547.5 787.8,536.8 792.7,558.3 797.6,569.1 802.5,590.7 807.4,596.0 812.3,623.0 817.2,623.0 822.1,623.0 826.9,623.0 831.8,623.0 836.7,623.0 841.6,623.0 846.5,623.0 851.4,623.0 856.3,623.0 861.2,623.0"/>
<polyline stroke="#17becf" points="162.9,623.0 167.8,623.0 172.7,623.0 177.6,623.0 182.5,623.0 187.4,623.0 192.3,623.0 197.2,623.0 202.1,623.0 206.9,623.0 211.8,623.0 216.7,623.0 221.6,623.0 226.5,623.0 231.4,623.0 236.3,623.0 241.2,623.0 246.1,623.0 251.0,623.0 255.9,623.0 260.8,623.0 265.7,623.0 270.6,623.0 275.4,623.0 280.3,623.0 285.2,623.0 290.1,623.0 295.0,623.0 299.9,623.0 304.8,623.0 309.7,623.0 314.6,623.0 319.5,623.0 324.4,623.0 329.3,623.0 334.2,623.0 339.0,623.0 343.9,623.0 348.8,623.0 353.7,623.0 358.6,623.0 363.5,623.0 368.4,596.0 373.3,574.5 378.2,552.9 383.1,536.8 388.0,526.0 392.9,526.0 397.8,520.6 402.7,526.0 407.5,515.2 412.4,520.6 417.3,520.6 422.2,526.0 427.1,515.2 432.0,509.8 436.9,493.6 441.8,499.0 446.7,477.5 451.6,461.3 456.5,450.5 461.4,423.6 466.3,429.0 471.2,423.6 476.0,407.4 480.9,412.8 485.8,418.2 490.7,429.0 495.6,439.7 500.5,450.5 505.4,434.4 510.3,423.6 515.2,412.8 520.1,418.2 525.0,412.8 529.9,418.2 534.8,418.2 539.6,423.6 544.5,429.0 549.4,429.0 554.3,423.6 559.2,429.0 564.1,455.9 569.0,466.7 573.9,445.1 578.8,445.1 583.7,434.4 588.6,434.4 593.5,445.1 598.4,450.5 603.3,450.5 608.1,439.7 613.0,445.1 617.9,455.9 622.8,445.1 627.7,450.5 632.6,439.7 637.5,455.9 642.4,455.9 647.3,439.7 652.2,423.6 657.1,429.0 662.0,439.7 666.9,461.3 671.8,445.1 676.6,434.4 681.5,439.7 686.4,455.9 691.3,439.7 696.2,450.5 701.1,439.7 706.0,472.1 710.1,434.4 720.6,434.4 725.6,423.0 730.0,417.9 740.6,417.9 750.6,407.1 755.6,412.8 760.6,429.5 765.5,429.5 770.5,445.1 775.5,445.1 780.5,450.0 785.5,466.7 789.9,472.1 794.3,480.2 796.7,504.4 801.7,526.0 806.1,552.9 808.7,623.0 813.6,623.0 818.5,623.0 823.4,623.0 828.3,623.0 833.2,623.0 838.1,623.0 843.0,623.0 847.9,623.0 852.8,623.0 857.7,623.0 862.6,623.0"/>
<polyline stroke="#1f77b4" points="163.7,623.0 168.6,623.0 173.5,623.0 178.4,623.0 183.3,623.0 188.2,623.0 193.1,623.0 198.0,623.0 202.9,623.0 207.8,623.0 212.7,623.0 217.5,623.0 222.4,623.0 227.3,623.0 232.2,623.0 237.1,623.0 242.0,623.0 246.9,623.0 251.8,623.0 256.7,623.0 261.6,623.0 266.5,623.0 271.4,623.0 276.3,623.0 281.2,623.0 286.0,623.0 290.9,623.0 295.8,623.0 300.7,623.0 305.6,623.0 310.5,623.0 315.4,623.0 320.3,623.0 325.2,623.0 330.1,623.0 335.0,623.0 339.9,623.0 344.8,623.0 349.7,623.0 354.5,623.0 359.4,623.0 364.3,623.0 369.2,574.5 374.1,558.3 379.0,542.1 383.9,531.4 388.8,531.4 393.7,520.6 398.6,504.4 403.5,504.4 408.4,499.0 413.3,499.0 418.1,504.4 423.0,499.0 427.9,488.2 432.8,488.2 437.7,466.7 442.6,450.5 447.5,439.7 452.4,434.4 457.3,418.2 462.2,412.8 467.1,407.4 472.0,396.6 476.9,396.6 481.8,396.6 486.6,402.0 491.5,402.0 496.4,402.0 501.3,407.4 506.2,423.6 511.1,434.4 516.0,434.4 520.9,423.6 525.8,434.4 530.7,429.0 535.6,429.0 540.5,418.2 545.4,423.6 550.2,429.0 555.1,439.7 560.0,461.3 564.9,461.3 569.8,472.1 574.7,499.0 579.6,477.5 584.5,461.3 589.4,455.9 594.3,466.7 599.2,477.5 604.1,488.2 609.0,488.2 613.9,493.6 618.7,482.9 623.6,461.3 628.5,461.3 633.4,466.7 638.3,477.5 643.2,455.9 648.1,434.4 653.0,461.3 657.9,482.9 662.8,445.1 667.7,429.0 672.6,418.2 677.5,412.8 682.4,418.2 687.2,418.2 692.1,418.2 697.0,412.8 701.9,429.0 706.8,434.4 711.7,439.7 716.6,423.6 721.5,434.4 726.4,445.1 731.3,472.1 736.2,450.5 741.1,461.3 746.0,455.9 750.8,461.3 755.7,455.9 760.6,461.3 765.5,466.7 770.4,472.1 775.3,482.9 780.2,488.2 785.1,493.6 790.0,493.6 794.9,515.2 799.8,526.0 804.7,558.3 809.6,623.0 814.5,623.0 819.3,623.0 824.2,623.0 829.1,623.0 834.0,623.0 838.9,623.0 843.8,623.0 848.7,623.0 853.6,623.0 858.5,623.0 863.4,623.0"/>
<polyline stroke="#ff7f0e" points="163.8,623.0 168.7,623.0 173.6,623.0 178.4,623.0 183.3,623.0 188.2,623.0 193.1,623.0 198.0,623.0 202.9,623.0 207.8,623.0 212.7,623.0 217.6,623.0 222.5,623.0 227.4,623.0 232.3,623.0 237.2,623.0 242.0,623.0 246.9,623.0 251.8,623.0 256.7,623.0 261.6,623.0 266.5,623.0 271.4,623.0 276.3,623.0 281.2,623.0 286.1,623.0 291.0,623.0 295.9,623.0 300.8,623.0 305.7,623.0 310.5,623.0 315.4,623.0 320.3,623.0 325.2,623.0 330.1,623.0 335.0,623.0 339.9,623.0 344.8,623.0 349.7,623.0 354.6,623.0 359.5,623.0 364.4,623.0 369.3,574.5 374.2,558.3 379.0,542.1 383.9,531.4 388.8,526.0 393.7,526.0 398.6,536.8 403.5,536.8 408.4,547.5 413.3,542.1 418.2,536.8 423.1,536.8 428.0,520.6 432.9,504.4 437.8,488.2 442.6,477.5 447.5,466.7 452.4,450.5 457.3,461.3 462.2,455.9 467.1,445.1 472.0,450.5 476.9,439.7 481.8,423.6 486.7,423.6 491.6,445.1 496.5,434.4 501.4,461.3 506.3,482.9 511.1,472.1 516.0,488.2 520.9,477.5 525.8,488.2 530.7,477.5 535.6,482.9 540.5,461.3 545.4,450.5 550.3,445.1 555.2,461.3 560.1,439.7 565.0,455.9 569.9,445.1 574.7,450.5 579.6,445.1 584.5,439.7 589.4,439.7 594.3,439.7 599.2,445.1 604.1,445.1 609.0,434.4 613.9,439.7 618.8,434.4 623.7,439.7 628.6,434.4 633.5,439.7 638.4,445.1 643.2,461.3 648.1,466.7 653.0,461.3 657.9,445.1 662.8,450.5 667.7,434.4 672.6,461.3 677.5,439.7 682.4,434.4 687.3,434.4 692.2,445.1 697.1,429.0 702.0,445.1 706.9,450.5 711.7,445.1 716.6,445.1 721.5,445.1 726.4,466.7 731.3,477.5 736.2,466.7 741.1,455.9 746.0,455.9 750.9,455.9 755.8,455.9 760.7,477.5 765.6,482.9 770.5,477.5 775.3,477.5 780.2,472.1 785.1,488.2 790.0,499.0 794.9,520.6 799.8,542.1 804.7,563.7 809.6,623.0 814.5,623.0 819.4,623.0 824.3,623.0 829.2,623.0 834.1,623.0 839.0,623.0 843.8,623.0 848.7,623.0 853.6,623.0 858.5,623.0 863.4,623.0"/>
</g>
<polyline clip-path="url(#c)" fill="none" stroke="#000" stroke-width="2.78" stroke-dasharray="10.28 4.44" stroke-linejoin="round" points="160.2,623.0 362.5,623.0 366.3,611.7 368.9,598.7 372.8,582.0 377.2,570.7 382.7,559.4 390.4,551.3 399.5,544.8 410.9,538.4 421.8,531.4 429.4,520.6 436.8,509.3 444.4,499.6 452.9,487.2 460.0,474.2 467.0,462.9 475.8,453.8 481.4,450.0 487.0,448.9 492.8,450.5 501.3,454.8 509.9,458.6 518.7,458.9 524.2,458.1 530.1,459.1 538.6,463.5 547.1,467.2 555.7,468.8 558.6,469.9 565.6,474.2 574.1,478.5 583.0,481.2 592.9,482.9 602.9,483.4 612.9,482.3 624.3,481.2 635.8,478.5 647.0,475.9 654.3,472.1 659.9,465.6 665.7,461.8 672.8,461.3 678.7,465.6 685.7,467.8 690.7,466.4 695.1,462.9 698.6,464.5 704.2,469.4 713.0,474.2 723.0,480.2 731.5,487.2 740.0,494.2 747.1,498.0 752.9,499.0 760.0,497.1 767.0,501.2 774.4,508.7 779.9,515.2 786.1,523.8 792.0,536.2 797.0,550.2 801.1,564.2 804.9,579.9 808.1,599.8 811.1,614.9 813.1,617.1 864.8,617.1"/>
<rect x="125.5" y="84.5" width="775.0" height="539.0" fill="none" stroke="#000" stroke-width="1" shape-rendering="crispEdges"/>
<path d="M160.5 624.0v5M248.5 624.0v5M336.5 624.0v5M424.5 624.0v5M512.5 624.0v5M601.5 624.0v5M689.5 624.0v5M777.5 624.0v5M865.5 624.0v5M125.0 623.5h-5M125.0 515.5h-5M125.0 407.5h-5M125.0 300.5h-5M125.0 192.5h-5M125.0 84.5h-5" stroke="#000" stroke-width="1" fill="none" shape-rendering="crispEdges"/>
<g style="filter:grayscale(1)">
<text x="115.2" y="628.0" font-size="14.3" text-anchor="end" textLength="8.8" lengthAdjust="spacingAndGlyphs">0</text>
<text x="115.3" y="520.9" font-size="14.3" text-anchor="end" textLength="17.1" lengthAdjust="spacingAndGlyphs">20</text>
<text x="114.4" y="412.9" font-size="14.3" text-anchor="end" textLength="17.1" lengthAdjust="spacingAndGlyphs">40</text>
<text x="115.0" y="304.9" font-size="14.3" text-anchor="end" textLength="17.1" lengthAdjust="spacingAndGlyphs">60</text>
<text x="115.3" y="197.0" font-size="14.3" text-anchor="end" textLength="17.1" lengthAdjust="spacingAndGlyphs">80</text>
<text x="114.4" y="90.0" font-size="14.3" text-anchor="end" textLength="25.3" lengthAdjust="spacingAndGlyphs">100</text>
<g transform="translate(159.63,652.2) rotate(-45)"><text x="0" y="5.1" font-size="14.3" text-anchor="middle" textLength="40.0" lengthAdjust="spacingAndGlyphs">00:00</text></g>
<g transform="translate(247.70,652.2) rotate(-45)"><text x="0" y="5.1" font-size="14.3" text-anchor="middle" textLength="40.0" lengthAdjust="spacingAndGlyphs">03:00</text></g>
<g transform="translate(335.76,652.2) rotate(-45)"><text x="0" y="5.1" font-size="14.3" text-anchor="middle" textLength="40.0" lengthAdjust="spacingAndGlyphs">06:00</text></g>
<g transform="translate(423.83,652.2) rotate(-45)"><text x="0" y="5.1" font-size="14.3" text-anchor="middle" textLength="40.0" lengthAdjust="spacingAndGlyphs">09:00</text></g>
<g transform="translate(511.90,652.2) rotate(-45)"><text x="0" y="5.1" font-size="14.3" text-anchor="middle" textLength="40.0" lengthAdjust="spacingAndGlyphs">12:00</text></g>
<g transform="translate(599.97,652.2) rotate(-45)"><text x="0" y="5.1" font-size="14.3" text-anchor="middle" textLength="40.0" lengthAdjust="spacingAndGlyphs">15:00</text></g>
<g transform="translate(688.04,652.2) rotate(-45)"><text x="0" y="5.1" font-size="14.3" text-anchor="middle" textLength="40.0" lengthAdjust="spacingAndGlyphs">18:00</text></g>
<g transform="translate(776.10,652.2) rotate(-45)"><text x="0" y="5.1" font-size="14.3" text-anchor="middle" textLength="40.0" lengthAdjust="spacingAndGlyphs">21:00</text></g>
<g transform="translate(864.17,652.2) rotate(-45)"><text x="0" y="5.1" font-size="14.3" text-anchor="middle" textLength="40.0" lengthAdjust="spacingAndGlyphs">24:00</text></g>
<text x="512.3" y="687.0" font-size="14.3" text-anchor="middle" textLength="262.5" lengthAdjust="spacingAndGlyphs">Time of Day (Seconds Since Midnight)</text>
<g transform="translate(78.9,354.3) rotate(-90)"><text x="0" y="0" font-size="14.3" text-anchor="middle" textLength="158.8" lengthAdjust="spacingAndGlyphs">Occupancy Percentage</text></g>
<text x="511.8" y="75.9" font-size="17.3" text-anchor="middle" textLength="135.0" lengthAdjust="spacingAndGlyphs">Data for Sunday</text>
</g>
<rect x="718.4" y="91.4" width="175" height="25" rx="2.8" ry="2.8" fill="#fff" fill-opacity="0.8" stroke="#ccc" stroke-width="1.11"/>
<path d="M723.9 103.4H751.7" stroke="#000" stroke-width="2.78" stroke-dasharray="10.28 4.44" fill="none"/>
<g style="filter:grayscale(1)"><text x="762.0" y="107.0" font-size="14.3" text-anchor="start" textLength="126.4" lengthAdjust="spacingAndGlyphs">Weekday Average</text></g>
</svg>
</body></html>
